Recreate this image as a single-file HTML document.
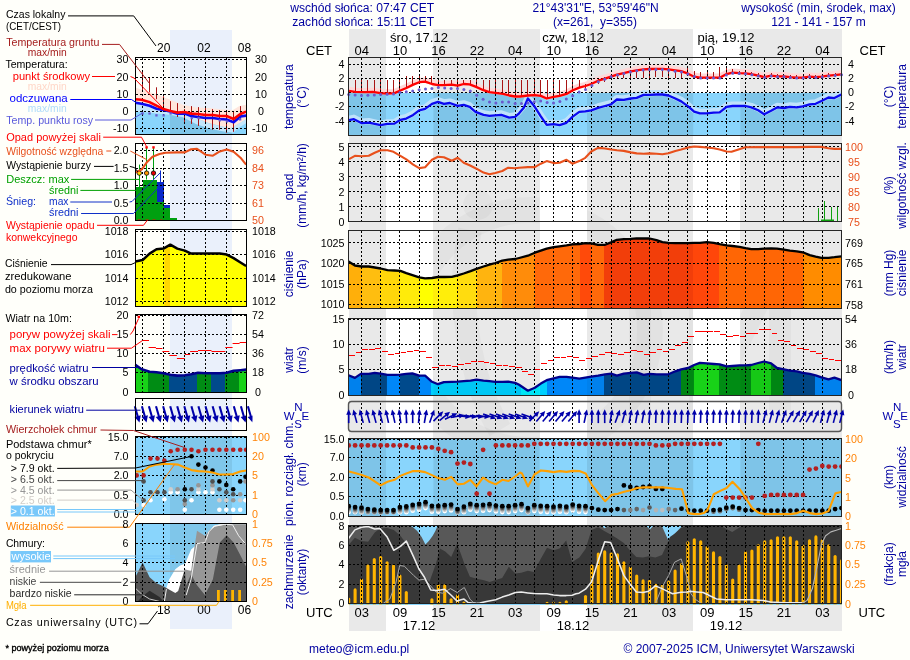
<!DOCTYPE html>
<html lang="pl"><head><meta charset="utf-8"><title>Meteogram ICM</title>
<style>
html,body{margin:0;padding:0;background:#fffffa;}
body{width:910px;height:660px;overflow:hidden;}
svg{display:block;font-family:"Liberation Sans",sans-serif;will-change:transform;}
</style></head><body>
<svg width="910" height="660" viewBox="0 0 910 660">
<rect x="0" y="0" width="910" height="660" fill="#fffffa"/>
<rect x="349" y="29" width="493" height="602" fill="#ffffff" shape-rendering="crispEdges"/>
<rect x="349.0" y="29" width="37.0" height="602" fill="#e9e9e9" shape-rendering="crispEdges"/>
<rect x="433.4" y="29" width="106.2" height="602" fill="#e9e9e9" shape-rendering="crispEdges"/>
<rect x="587.0" y="29" width="106.2" height="602" fill="#e9e9e9" shape-rendering="crispEdges"/>
<rect x="740.4" y="29" width="101.6" height="602" fill="#e9e9e9" shape-rendering="crispEdges"/>
<defs><clipPath id="nb"><rect x="349.0" y="29" width="37.0" height="602"/><rect x="433.4" y="29" width="106.2" height="602"/><rect x="587.0" y="29" width="106.2" height="602"/><rect x="740.4" y="29" width="101.6" height="602"/></clipPath></defs>
<g fill="none" stroke="#000" stroke-opacity="0.028" clip-path="url(#nb)"><circle cx="530" cy="330" r="120" stroke-width="26"/><path d="M470,230 C455,300 470,380 500,430" stroke-width="24"/><circle cx="478" cy="205" r="8" stroke-width="14"/><path d="M640,250 v160 M700,410 v-150 l40,80 l40,-80 v150" stroke-width="22"/></g>
<text x="290.3" y="12.0" font-size="12" fill="#0000a0" text-anchor="start" textLength="143.8" lengthAdjust="spacingAndGlyphs">wschód słońca: 07:47 CET</text>
<text x="292.2" y="26.0" font-size="12" fill="#0000a0" text-anchor="start" textLength="141.9" lengthAdjust="spacingAndGlyphs">zachód słońca: 15:11 CET</text>
<text x="595.5" y="12.0" font-size="12" fill="#0000a0" text-anchor="middle" >21°43'31"E, 53°59'46"N</text>
<text x="595.0" y="26.0" font-size="12" fill="#0000a0" text-anchor="middle" xml:space="preserve">(x=261,  y=355)</text>
<text x="818.5" y="12.0" font-size="12" fill="#0000a0" text-anchor="middle" >wysokość (min, środek, max)</text>
<text x="818.5" y="26.0" font-size="12" fill="#0000a0" text-anchor="middle" >121 - 141 - 157 m</text>
<text x="419.0" y="42.0" font-size="13" fill="#000" text-anchor="middle" >śro, 17.12</text>
<text x="573.0" y="42.0" font-size="13" fill="#000" text-anchor="middle" >czw, 18.12</text>
<text x="726.0" y="42.0" font-size="13" fill="#000" text-anchor="middle" >pią, 19.12</text>
<text x="419.0" y="630.0" font-size="13" fill="#000" text-anchor="middle" >17.12</text>
<text x="573.0" y="630.0" font-size="13" fill="#000" text-anchor="middle" >18.12</text>
<text x="726.0" y="630.0" font-size="13" fill="#000" text-anchor="middle" >19.12</text>
<text x="361.7" y="55.0" font-size="13" fill="#000" text-anchor="middle" >04</text>
<text x="361.7" y="617.0" font-size="13" fill="#000" text-anchor="middle" >03</text>
<text x="400.1" y="55.0" font-size="13" fill="#000" text-anchor="middle" >10</text>
<text x="400.1" y="617.0" font-size="13" fill="#000" text-anchor="middle" >09</text>
<text x="438.5" y="55.0" font-size="13" fill="#000" text-anchor="middle" >16</text>
<text x="438.5" y="617.0" font-size="13" fill="#000" text-anchor="middle" >15</text>
<text x="476.9" y="55.0" font-size="13" fill="#000" text-anchor="middle" >22</text>
<text x="476.9" y="617.0" font-size="13" fill="#000" text-anchor="middle" >21</text>
<text x="515.3" y="55.0" font-size="13" fill="#000" text-anchor="middle" >04</text>
<text x="515.3" y="617.0" font-size="13" fill="#000" text-anchor="middle" >03</text>
<text x="553.7" y="55.0" font-size="13" fill="#000" text-anchor="middle" >10</text>
<text x="553.7" y="617.0" font-size="13" fill="#000" text-anchor="middle" >09</text>
<text x="592.1" y="55.0" font-size="13" fill="#000" text-anchor="middle" >16</text>
<text x="592.1" y="617.0" font-size="13" fill="#000" text-anchor="middle" >15</text>
<text x="630.5" y="55.0" font-size="13" fill="#000" text-anchor="middle" >22</text>
<text x="630.5" y="617.0" font-size="13" fill="#000" text-anchor="middle" >21</text>
<text x="668.9" y="55.0" font-size="13" fill="#000" text-anchor="middle" >04</text>
<text x="668.9" y="617.0" font-size="13" fill="#000" text-anchor="middle" >03</text>
<text x="707.3" y="55.0" font-size="13" fill="#000" text-anchor="middle" >10</text>
<text x="707.3" y="617.0" font-size="13" fill="#000" text-anchor="middle" >09</text>
<text x="745.7" y="55.0" font-size="13" fill="#000" text-anchor="middle" >16</text>
<text x="745.7" y="617.0" font-size="13" fill="#000" text-anchor="middle" >15</text>
<text x="784.1" y="55.0" font-size="13" fill="#000" text-anchor="middle" >22</text>
<text x="784.1" y="617.0" font-size="13" fill="#000" text-anchor="middle" >21</text>
<text x="822.5" y="55.0" font-size="13" fill="#000" text-anchor="middle" >04</text>
<text x="822.5" y="617.0" font-size="13" fill="#000" text-anchor="middle" >03</text>
<text x="306.0" y="55.0" font-size="13" fill="#000" text-anchor="start" >CET</text>
<text x="859.5" y="55.0" font-size="13" fill="#000" text-anchor="start" >CET</text>
<text x="306.0" y="617.0" font-size="13" fill="#000" text-anchor="start" >UTC</text>
<text x="858.5" y="617.0" font-size="13" fill="#000" text-anchor="start" >UTC</text>
<defs><clipPath id="c1"><rect x="348.5" y="92.5" width="493.0" height="43.0"/></clipPath></defs>
<rect x="348.5" y="92.5" width="493.0" height="43.0" fill="#89d5fc" shape-rendering="crispEdges"/>
<rect x="349.0" y="57.5" width="37.0" height="78.0" fill="#000" fill-opacity="0.08" clip-path="url(#c1)"/>
<rect x="433.4" y="57.5" width="106.2" height="78.0" fill="#000" fill-opacity="0.08" clip-path="url(#c1)"/>
<rect x="587.0" y="57.5" width="106.2" height="78.0" fill="#000" fill-opacity="0.08" clip-path="url(#c1)"/>
<rect x="740.4" y="57.5" width="101.6" height="78.0" fill="#000" fill-opacity="0.08" clip-path="url(#c1)"/>
<polyline points="349.0,89.4 354.9,90.4 364.8,90.6 372.7,90.4 380.6,91.6 387.5,92.0 394.5,91.6 400.4,89.0 406.3,86.5 413.2,83.1 419.2,80.7 425.1,80.1 432.0,82.5 438.0,83.7 443.9,83.7 451.8,83.1 457.7,84.1 463.7,82.5 469.6,82.9 475.5,85.1 483.5,88.7 489.4,90.6 495.3,91.4 503.2,92.4 509.2,94.0 515.1,95.0 520.1,95.0 527.9,94.0 534.8,93.6 540.8,94.4 546.7,97.0 553.6,95.4 559.6,94.4 566.5,92.4 572.4,89.0 579.3,86.1 585.3,84.5 591.2,82.5 598.1,79.2 605.1,77.2 611.0,75.2 616.9,73.2 623.8,71.6 630.8,69.9 636.7,68.9 643.6,67.9 649.6,67.5 656.5,67.3 662.4,67.3 668.4,67.9 675.3,68.9 681.2,69.7 688.1,72.2 694.1,75.2 699.9,76.2 706.8,76.2 713.7,76.2 719.7,76.2 726.6,72.6 732.5,71.2 739.5,71.6 745.4,71.8 751.3,72.6 758.2,74.2 764.2,75.6 771.1,74.2 777.0,74.8 784.0,74.8 789.9,75.6 796.8,76.2 802.7,76.2 809.7,75.2 815.6,75.6 821.5,75.2 828.5,74.2 834.4,73.6 841.3,72.8" fill="none" stroke="#ffd8d8" stroke-width="5.4" stroke-linejoin="round"/>
<polyline points="349.0,118.6 353.9,117.6 361.8,121.6 368.7,121.0 380.6,123.6 387.5,122.2 394.5,122.0 400.4,118.2 406.3,117.0 413.2,113.3 419.2,108.7 425.1,107.3 432.0,102.2 438.0,100.2 443.9,102.2 449.8,101.4 457.7,104.2 463.7,103.2 469.6,105.2 475.5,110.3 483.5,113.3 489.4,114.3 495.3,113.7 501.3,113.3 509.2,116.0 515.1,115.3 519.1,111.7 524.0,105.8 527.9,96.9 533.8,103.8 540.8,114.7 546.7,123.2 553.6,122.6 559.6,123.6 566.5,121.2 572.4,115.3 579.3,110.3 585.3,109.7 591.2,108.7 598.1,106.2 605.1,104.4 611.0,102.8 616.9,97.9 623.8,98.2 630.8,96.9 636.7,96.3 643.6,93.3 649.6,93.3 656.5,92.9 662.4,92.9 668.4,93.9 675.3,96.9 681.2,99.8 688.1,104.8 694.1,110.1 699.9,111.7 706.8,111.7 713.7,111.1 719.7,110.7 726.6,105.2 732.5,104.4 739.5,104.4 745.4,104.4 751.3,105.8 758.2,108.7 764.2,112.7 771.1,109.1 777.0,105.8 784.0,106.4 789.9,105.2 796.8,105.8 802.7,104.8 809.7,102.8 815.6,102.2 821.5,99.4 828.5,95.9 834.4,96.5 841.3,92.9" fill="none" stroke="#bfe2fb" stroke-width="6" stroke-linejoin="round"/>
<path d="M355.5,79.5 V91.9 M361.5,79.5 V92.1 M367.5,79.5 V92.1 M374.5,79.5 V92.2 M380.5,79.5 V93.1 M387.5,79.5 V93.5 M393.5,79.5 V93.2 M399.5,79.5 V90.9 M406.5,76.3 V87.9 M412.5,76.3 V85.0 M419.5,76.3 V82.2 M425.5,76.3 V81.8 M431.5,76.3 V83.8 M438.5,79.5 V85.2 M444.5,79.5 V85.2 M451.5,79.5 V84.6 M457.5,79.5 V85.6 M463.5,79.5 V84.1 M470.5,79.5 V84.7 M476.5,79.5 V87.0 M483.5,79.5 V90.2 M489.5,79.5 V92.1 M495.5,79.5 V92.9 M502.5,80.3 V93.8 M508.5,80.3 V95.3 M515.5,80.3 V96.5 M521.5,80.3 V96.3 M527.5,80.3 V95.5 M534.5,80.3 V95.1 M540.5,80.3 V95.9 M547.5,80.3 V98.3 M553.5,80.3 V96.9 M559.5,80.3 V95.9 M566.5,80.3 V93.9 M572.5,80.3 V90.5 M579.5,80.3 V87.5 M585.5,83.9 V88.9 M591.5,81.9 V86.9 M598.5,78.6 V83.6 M604.5,76.8 V81.8 M611.5,76.0 V78.3 M617.5,74.1 V78.3 M623.5,72.7 V78.3 M630.5,70.9 V78.3 M636.5,69.9 V78.3 M643.5,68.9 V77.9 M649.5,68.5 V77.5 M655.5,68.3 V77.3 M662.5,68.3 V77.3 M668.5,68.9 V77.9 M675.5,69.9 V78.3 M681.5,70.8 V78.3 M687.5,68.0 V73.5 M694.5,71.3 V76.8 M700.5,72.2 V77.7 M707.5,72.2 V77.7 M713.5,72.2 V77.7 M719.5,67.4 V78.7 M726.5,67.9 V75.2 M732.5,68.8 V73.8 M739.5,70.6 V74.6 M745.5,70.9 V74.9 M751.5,71.7 V75.7 M758.5,73.3 V77.3 M764.5,74.5 V78.5 M771.5,73.3 V77.3 M777.5,73.8 V77.8 M783.5,73.8 V77.8 M790.5,74.7 V78.7 M796.5,75.2 V79.2 M803.5,75.1 V79.1 M809.5,74.2 V78.2 M815.5,74.6 V78.6 M822.5,74.1 V78.1 M828.5,73.2 V77.2 M835.5,72.5 V76.5 M841.5,71.8 V75.8" stroke="#a81414" stroke-width="1" fill="none" shape-rendering="crispEdges"/>
<path d="M361.5,57.5 V135.5 M380.5,57.5 V135.5 M399.5,57.5 V135.5 M419.5,57.5 V135.5 M438.5,57.5 V135.5 M457.5,57.5 V135.5 M476.5,57.5 V135.5 M495.5,57.5 V135.5 M515.5,57.5 V135.5 M534.5,57.5 V135.5 M553.5,57.5 V135.5 M572.5,57.5 V135.5 M591.5,57.5 V135.5 M611.5,57.5 V135.5 M630.5,57.5 V135.5 M649.5,57.5 V135.5 M668.5,57.5 V135.5 M687.5,57.5 V135.5 M707.5,57.5 V135.5 M726.5,57.5 V135.5 M745.5,57.5 V135.5 M764.5,57.5 V135.5 M783.5,57.5 V135.5 M803.5,57.5 V135.5 M822.5,57.5 V135.5 M348.5,64.5 H841.5 M348.5,78.5 H841.5 M348.5,92.5 H841.5 M348.5,106.5 H841.5 M348.5,121.5 H841.5" stroke="#000" stroke-width="1" stroke-dasharray="2,2" fill="none" shape-rendering="crispEdges"/>
<polyline points="349.0,90.9 354.9,91.9 364.8,92.1 372.7,91.9 380.6,93.1 387.5,93.5 394.5,93.1 400.4,90.5 406.3,88.0 413.2,84.6 419.2,82.2 425.1,81.6 432.0,84.0 438.0,85.2 443.9,85.2 451.8,84.6 457.7,85.6 463.7,84.0 469.6,84.4 475.5,86.6 483.5,90.2 489.4,92.1 495.3,92.9 503.2,93.9 509.2,95.5 515.1,96.5 520.1,96.5 527.9,95.5 534.8,95.1 540.8,95.9 546.7,98.5 553.6,96.9 559.6,95.9 566.5,93.9 572.4,90.5 579.3,87.6 585.3,86.0 591.2,84.0 598.1,80.7 605.1,78.7 611.0,76.7 616.9,74.7 623.8,73.1 630.8,71.4 636.7,70.4 643.6,69.4 649.6,69.0 656.5,68.8 662.4,68.8 668.4,69.4 675.3,70.4 681.2,71.2 688.1,73.7 694.1,76.7 699.9,77.7 706.8,77.7 713.7,77.7 719.7,77.7 726.6,74.1 732.5,72.7 739.5,73.1 745.4,73.3 751.3,74.1 758.2,75.7 764.2,77.1 771.1,75.7 777.0,76.3 784.0,76.3 789.9,77.1 796.8,77.7 802.7,77.7 809.7,76.7 815.6,77.1 821.5,76.7 828.5,75.7 834.4,75.1 841.3,74.3" fill="none" stroke="#ff0000" stroke-width="2.3" stroke-linejoin="round"/>
<polyline points="349.0,120.2 353.9,119.2 361.8,123.2 368.7,122.6 380.6,125.2 387.5,123.8 394.5,123.6 400.4,119.8 406.3,118.6 413.2,114.9 419.2,110.3 425.1,108.9 432.0,103.8 438.0,101.8 443.9,103.8 449.8,103.0 457.7,105.8 463.7,104.8 469.6,106.8 475.5,111.9 483.5,114.9 489.4,115.9 495.3,115.3 501.3,114.9 509.2,117.6 515.1,116.9 519.1,113.3 524.0,107.4 527.9,98.5 533.8,105.4 540.8,116.3 546.7,124.8 553.6,124.2 559.6,125.2 566.5,122.8 572.4,116.9 579.3,111.9 585.3,111.3 591.2,110.3 598.1,107.8 605.1,106.0 611.0,104.4 616.9,99.5 623.8,99.8 630.8,98.5 636.7,97.9 643.6,94.9 649.6,94.9 656.5,94.5 662.4,94.5 668.4,95.5 675.3,98.5 681.2,101.4 688.1,106.4 694.1,111.7 699.9,113.3 706.8,113.3 713.7,112.7 719.7,112.3 726.6,106.8 732.5,106.0 739.5,106.0 745.4,106.0 751.3,107.4 758.2,110.3 764.2,114.3 771.1,110.7 777.0,107.4 784.0,108.0 789.9,106.8 796.8,107.4 802.7,106.4 809.7,104.4 815.6,103.8 821.5,101.0 828.5,97.5 834.4,98.1 841.3,94.5" fill="none" stroke="#0a0af0" stroke-width="2.3" stroke-linejoin="round"/>
<g fill="#6a5acd"><circle cx="348.7" cy="94.5" r="1.5"/><circle cx="355.1" cy="95.1" r="1.5"/><circle cx="361.5" cy="95.5" r="1.5"/><circle cx="367.9" cy="95.3" r="1.5"/><circle cx="374.3" cy="94.9" r="1.5"/><circle cx="380.7" cy="94.5" r="1.5"/><circle cx="387.1" cy="94.3" r="1.5"/><circle cx="393.5" cy="93.9" r="1.5"/><circle cx="399.9" cy="92.6" r="1.5"/><circle cx="406.3" cy="91.8" r="1.5"/><circle cx="412.7" cy="91.0" r="1.5"/><circle cx="419.1" cy="89.7" r="1.5"/><circle cx="425.5" cy="89.0" r="1.5"/><circle cx="431.9" cy="88.6" r="1.5"/><circle cx="438.3" cy="87.6" r="1.5"/><circle cx="444.7" cy="88.0" r="1.5"/><circle cx="451.1" cy="88.6" r="1.5"/><circle cx="457.5" cy="88.6" r="1.5"/><circle cx="463.9" cy="89.5" r="1.5"/><circle cx="470.3" cy="90.9" r="1.5"/><circle cx="476.7" cy="95.3" r="1.5"/><circle cx="483.1" cy="99.2" r="1.5"/><circle cx="489.5" cy="102.0" r="1.5"/><circle cx="495.9" cy="103.0" r="1.5"/><circle cx="502.3" cy="102.0" r="1.5"/><circle cx="508.7" cy="102.0" r="1.5"/><circle cx="515.1" cy="103.4" r="1.5"/><circle cx="521.5" cy="103.4" r="1.5"/><circle cx="527.9" cy="103.0" r="1.5"/><circle cx="534.3" cy="101.8" r="1.5"/><circle cx="540.7" cy="101.0" r="1.5"/><circle cx="547.1" cy="102.4" r="1.5"/><circle cx="553.5" cy="103.0" r="1.5"/><circle cx="559.9" cy="101.4" r="1.5"/><circle cx="566.3" cy="98.9" r="1.5"/><circle cx="572.7" cy="95.7" r="1.5"/><circle cx="579.1" cy="92.1" r="1.5"/><circle cx="585.5" cy="89.6" r="1.5"/><circle cx="591.9" cy="85.4" r="1.5"/><circle cx="598.3" cy="81.8" r="1.5"/><circle cx="604.7" cy="79.2" r="1.5"/><circle cx="611.1" cy="76.7" r="1.5"/><circle cx="617.5" cy="75.0" r="1.5"/><circle cx="623.9" cy="73.4" r="1.5"/><circle cx="630.3" cy="72.1" r="1.5"/><circle cx="636.7" cy="70.8" r="1.5"/><circle cx="643.1" cy="70.0" r="1.5"/><circle cx="649.5" cy="69.6" r="1.5"/><circle cx="655.9" cy="69.4" r="1.5"/><circle cx="662.3" cy="69.4" r="1.5"/><circle cx="668.7" cy="70.2" r="1.5"/><circle cx="675.1" cy="71.3" r="1.5"/><circle cx="681.5" cy="72.1" r="1.5"/><circle cx="687.9" cy="74.1" r="1.5"/><circle cx="694.3" cy="76.6" r="1.5"/><circle cx="700.7" cy="78.1" r="1.5"/><circle cx="707.1" cy="78.1" r="1.5"/><circle cx="713.5" cy="78.1" r="1.5"/><circle cx="719.9" cy="78.0" r="1.5"/><circle cx="726.3" cy="74.9" r="1.5"/><circle cx="732.7" cy="73.3" r="1.5"/><circle cx="739.1" cy="73.5" r="1.5"/><circle cx="745.5" cy="73.8" r="1.5"/><circle cx="751.9" cy="74.7" r="1.5"/><circle cx="758.3" cy="76.1" r="1.5"/><circle cx="764.7" cy="77.4" r="1.5"/><circle cx="771.1" cy="76.1" r="1.5"/><circle cx="777.5" cy="76.7" r="1.5"/><circle cx="783.9" cy="76.7" r="1.5"/><circle cx="790.3" cy="77.5" r="1.5"/><circle cx="796.7" cy="78.1" r="1.5"/><circle cx="803.1" cy="78.0" r="1.5"/><circle cx="809.5" cy="77.1" r="1.5"/><circle cx="815.9" cy="77.5" r="1.5"/><circle cx="822.3" cy="77.0" r="1.5"/><circle cx="828.7" cy="76.1" r="1.5"/><circle cx="835.1" cy="75.4" r="1.5"/><circle cx="841.5" cy="74.7" r="1.5"/></g>
<rect x="348.5" y="57.5" width="493.0" height="78.0" fill="none" stroke="#262626" stroke-width="1" shape-rendering="crispEdges"/>
<text x="344.5" y="68.3" font-size="10.7" fill="#000" text-anchor="end" >4</text>
<text x="344.5" y="82.3" font-size="10.7" fill="#000" text-anchor="end" >2</text>
<text x="344.5" y="96.3" font-size="10.7" fill="#000" text-anchor="end" >0</text>
<text x="344.5" y="110.3" font-size="10.7" fill="#000" text-anchor="end" >-2</text>
<text x="344.5" y="125.3" font-size="10.7" fill="#000" text-anchor="end" >-4</text>
<text x="848.0" y="68.3" font-size="10.7" fill="#000" text-anchor="start" >4</text>
<text x="848.0" y="82.3" font-size="10.7" fill="#000" text-anchor="start" >2</text>
<text x="848.0" y="96.3" font-size="10.7" fill="#000" text-anchor="start" >0</text>
<text x="845.0" y="110.3" font-size="10.7" fill="#000" text-anchor="start" >-2</text>
<text x="845.0" y="125.3" font-size="10.7" fill="#000" text-anchor="start" >-4</text>
<text transform="translate(293.0,96.6) rotate(-90)" font-size="12" fill="#0000a0" text-anchor="middle">temperatura</text>
<text transform="translate(306.0,96.9) rotate(-90)" font-size="12" fill="#0000a0" text-anchor="middle">(°C)</text>
<text transform="translate(892.5,96.5) rotate(-90)" font-size="12" fill="#0000a0" text-anchor="middle">(°C)</text>
<text transform="translate(906.0,96.5) rotate(-90)" font-size="12" fill="#0000a0" text-anchor="middle">temperatura</text>
<path d="M361.5,143.5 V221.5 M380.5,143.5 V221.5 M399.5,143.5 V221.5 M419.5,143.5 V221.5 M438.5,143.5 V221.5 M457.5,143.5 V221.5 M476.5,143.5 V221.5 M495.5,143.5 V221.5 M515.5,143.5 V221.5 M534.5,143.5 V221.5 M553.5,143.5 V221.5 M572.5,143.5 V221.5 M591.5,143.5 V221.5 M611.5,143.5 V221.5 M630.5,143.5 V221.5 M649.5,143.5 V221.5 M668.5,143.5 V221.5 M687.5,143.5 V221.5 M707.5,143.5 V221.5 M726.5,143.5 V221.5 M745.5,143.5 V221.5 M764.5,143.5 V221.5 M783.5,143.5 V221.5 M803.5,143.5 V221.5 M822.5,143.5 V221.5 M348.5,146.5 H841.5 M348.5,161.5 H841.5 M348.5,176.5 H841.5 M348.5,191.5 H841.5 M348.5,206.5 H841.5" stroke="#000" stroke-width="1" stroke-dasharray="2,2" fill="none" shape-rendering="crispEdges"/>
<path d="M815.5,221 H841 M818.5,208 V221 M824.5,201 V221 M831.5,207 V221 M837.5,207 V221" stroke="#10a010" stroke-width="1" fill="none" shape-rendering="crispEdges"/>
<rect x="821" y="219.5" width="13" height="2" fill="#10a010"/>
<polyline points="349.0,159.2 354.9,155.8 361.8,156.2 368.7,155.8 374.7,152.8 380.6,150.3 387.5,150.3 393.5,151.8 400.4,155.8 406.3,159.4 413.2,164.7 419.2,168.1 425.1,167.3 432.0,159.8 438.0,156.8 443.9,157.2 451.8,160.7 457.7,157.8 463.7,162.7 469.6,165.3 476.5,168.7 483.5,172.6 489.4,174.2 495.3,173.0 502.3,171.0 508.2,167.7 515.1,168.3 519.1,167.7 527.9,167.1 534.8,167.1 540.8,163.7 546.7,161.1 553.6,163.1 559.6,162.7 566.5,159.8 572.4,163.7 579.3,161.1 585.3,157.8 591.2,151.5 598.1,147.9 605.1,148.5 611.0,149.5 616.9,150.3 623.8,150.9 630.8,152.4 636.7,153.4 643.6,153.8 649.6,153.4 656.5,153.8 662.4,154.2 668.4,153.2 675.3,150.9 681.2,149.5 688.1,147.5 694.1,146.5 699.9,146.9 706.8,147.5 713.7,148.3 719.7,149.5 726.6,151.5 731.5,151.8 738.5,149.5 745.4,147.3 758.2,147.1 771.1,147.1 784.0,147.1 796.8,147.1 809.7,146.9 821.5,146.9 828.5,148.3 834.4,148.9 841.3,148.9" fill="none" stroke="#e8501c" stroke-width="2.1" stroke-linejoin="round"/>
<rect x="348.5" y="143.5" width="493.0" height="78.0" fill="none" stroke="#262626" stroke-width="1" shape-rendering="crispEdges"/>
<text x="344.5" y="151.3" font-size="10.7" fill="#000" text-anchor="end" >5</text>
<text x="344.5" y="166.3" font-size="10.7" fill="#000" text-anchor="end" >4</text>
<text x="344.5" y="181.3" font-size="10.7" fill="#000" text-anchor="end" >3</text>
<text x="344.5" y="196.3" font-size="10.7" fill="#000" text-anchor="end" >2</text>
<text x="344.5" y="211.3" font-size="10.7" fill="#000" text-anchor="end" >1</text>
<text x="344.5" y="225.6" font-size="10.7" fill="#000" text-anchor="end" >0</text>
<text x="845.0" y="151.3" font-size="10.7" fill="#e8501c" text-anchor="start" >100</text>
<text x="848.0" y="166.3" font-size="10.7" fill="#e8501c" text-anchor="start" >95</text>
<text x="848.0" y="181.3" font-size="10.7" fill="#e8501c" text-anchor="start" >90</text>
<text x="848.0" y="196.3" font-size="10.7" fill="#e8501c" text-anchor="start" >85</text>
<text x="848.0" y="211.3" font-size="10.7" fill="#e8501c" text-anchor="start" >80</text>
<text x="848.0" y="225.8" font-size="10.7" fill="#e8501c" text-anchor="start" >75</text>
<text transform="translate(293.0,187.0) rotate(-90)" font-size="12" fill="#0000a0" text-anchor="middle">opad</text>
<text transform="translate(306.0,185.5) rotate(-90)" font-size="12" fill="#0000a0" text-anchor="middle">(mm/h, kg/m²/h)</text>
<text transform="translate(892.5,185.5) rotate(-90)" font-size="12" fill="#0000a0" text-anchor="middle">(%)</text>
<text transform="translate(906.0,185.5) rotate(-90)" font-size="12" fill="#0000a0" text-anchor="middle">wilgotność wzgl.</text>
<defs><clipPath id="c3"><polygon points="348.5,261.6 354.9,265.5 361.8,266.5 368.7,266.5 374.7,267.5 380.6,268.5 387.5,270.1 394.5,270.5 400.4,270.9 406.3,273.1 413.2,275.4 419.2,277.4 425.1,278.4 432.0,278.0 438.0,277.0 444.9,277.0 451.8,276.8 457.7,275.4 463.7,273.5 470.6,271.1 476.5,268.9 483.5,266.5 489.4,264.6 495.3,263.0 502.3,260.6 508.2,259.6 515.1,259.0 519.1,258.0 527.9,255.7 534.8,252.7 540.8,250.7 546.7,248.7 553.6,247.2 559.6,246.4 566.5,245.4 572.4,244.4 579.3,244.0 585.3,243.2 591.2,243.4 598.1,244.8 605.1,244.8 611.0,242.4 616.9,239.8 623.8,239.2 630.8,238.8 636.7,238.3 643.6,238.5 649.6,238.5 656.5,240.2 662.4,242.2 668.4,242.8 675.3,243.2 681.2,243.2 688.1,243.2 694.1,242.8 699.9,242.8 706.8,242.2 713.7,242.8 719.7,244.2 726.6,245.4 732.5,246.0 739.5,246.8 745.4,248.1 751.3,249.1 758.2,249.1 764.2,248.7 771.1,248.3 777.0,248.7 784.0,249.7 789.9,250.7 796.8,251.3 802.7,252.3 809.7,255.1 815.6,256.6 821.5,257.8 828.5,257.8 834.4,257.2 841.5,256.3 841.5,308.5 348.5,308.5"/></clipPath></defs>
<g clip-path="url(#c3)" shape-rendering="crispEdges"><rect x="348.0" y="230.5" width="14.3" height="78.0" fill="#ffaf0a"/><rect x="362.0" y="230.5" width="18.3" height="78.0" fill="#ffbe0f"/><rect x="380.0" y="230.5" width="20.3" height="78.0" fill="#ffd70a"/><rect x="400.0" y="230.5" width="20.3" height="78.0" fill="#ffeb0a"/><rect x="420.0" y="230.5" width="13.3" height="78.0" fill="#ffff00"/><rect x="433.0" y="230.5" width="24.3" height="78.0" fill="#ffee0a"/><rect x="457.0" y="230.5" width="20.3" height="78.0" fill="#ffdc0f"/><rect x="477.0" y="230.5" width="25.3" height="78.0" fill="#ffb40f"/><rect x="502.0" y="230.5" width="32.8" height="78.0" fill="#ff8c0a"/><rect x="534.5" y="230.5" width="45.3" height="78.0" fill="#ff690a"/><rect x="579.5" y="230.5" width="11.8" height="78.0" fill="#ff4a0a"/><rect x="591.0" y="230.5" width="13.3" height="78.0" fill="#ff690a"/><rect x="604.0" y="230.5" width="89.3" height="78.0" fill="#f23e0a"/><rect x="693.0" y="230.5" width="26.0" height="78.0" fill="#ff460a"/><rect x="718.7" y="230.5" width="84.3" height="78.0" fill="#ff6605"/><rect x="802.7" y="230.5" width="39.6" height="78.0" fill="#ff8c00"/></g>
<path d="M361.5,230.5 V308.5 M380.5,230.5 V308.5 M399.5,230.5 V308.5 M419.5,230.5 V308.5 M438.5,230.5 V308.5 M457.5,230.5 V308.5 M476.5,230.5 V308.5 M495.5,230.5 V308.5 M515.5,230.5 V308.5 M534.5,230.5 V308.5 M553.5,230.5 V308.5 M572.5,230.5 V308.5 M591.5,230.5 V308.5 M611.5,230.5 V308.5 M630.5,230.5 V308.5 M649.5,230.5 V308.5 M668.5,230.5 V308.5 M687.5,230.5 V308.5 M707.5,230.5 V308.5 M726.5,230.5 V308.5 M745.5,230.5 V308.5 M764.5,230.5 V308.5 M783.5,230.5 V308.5 M803.5,230.5 V308.5 M822.5,230.5 V308.5 M348.5,242.5 H841.5 M348.5,263.5 H841.5 M348.5,284.5 H841.5 M348.5,304.5 H841.5" stroke="#000" stroke-width="1" stroke-dasharray="2,2" fill="none" shape-rendering="crispEdges"/>
<polyline points="348.5,261.6 354.9,265.5 361.8,266.5 368.7,266.5 374.7,267.5 380.6,268.5 387.5,270.1 394.5,270.5 400.4,270.9 406.3,273.1 413.2,275.4 419.2,277.4 425.1,278.4 432.0,278.0 438.0,277.0 444.9,277.0 451.8,276.8 457.7,275.4 463.7,273.5 470.6,271.1 476.5,268.9 483.5,266.5 489.4,264.6 495.3,263.0 502.3,260.6 508.2,259.6 515.1,259.0 519.1,258.0 527.9,255.7 534.8,252.7 540.8,250.7 546.7,248.7 553.6,247.2 559.6,246.4 566.5,245.4 572.4,244.4 579.3,244.0 585.3,243.2 591.2,243.4 598.1,244.8 605.1,244.8 611.0,242.4 616.9,239.8 623.8,239.2 630.8,238.8 636.7,238.3 643.6,238.5 649.6,238.5 656.5,240.2 662.4,242.2 668.4,242.8 675.3,243.2 681.2,243.2 688.1,243.2 694.1,242.8 699.9,242.8 706.8,242.2 713.7,242.8 719.7,244.2 726.6,245.4 732.5,246.0 739.5,246.8 745.4,248.1 751.3,249.1 758.2,249.1 764.2,248.7 771.1,248.3 777.0,248.7 784.0,249.7 789.9,250.7 796.8,251.3 802.7,252.3 809.7,255.1 815.6,256.6 821.5,257.8 828.5,257.8 834.4,257.2 841.5,256.3" fill="none" stroke="#000" stroke-width="2.3" stroke-linejoin="round"/>
<rect x="348.5" y="230.5" width="493.0" height="78.0" fill="none" stroke="#262626" stroke-width="1" shape-rendering="crispEdges"/>
<text x="344.5" y="246.8" font-size="10.7" fill="#000" text-anchor="end" >1025</text>
<text x="344.5" y="267.3" font-size="10.7" fill="#000" text-anchor="end" >1020</text>
<text x="344.5" y="288.3" font-size="10.7" fill="#000" text-anchor="end" >1015</text>
<text x="344.5" y="308.3" font-size="10.7" fill="#000" text-anchor="end" >1010</text>
<text x="845.0" y="247.1" font-size="10.7" fill="#000" text-anchor="start" >769</text>
<text x="845.0" y="266.8" font-size="10.7" fill="#000" text-anchor="start" >765</text>
<text x="845.0" y="287.8" font-size="10.7" fill="#000" text-anchor="start" >761</text>
<text x="845.0" y="308.8" font-size="10.7" fill="#000" text-anchor="start" >758</text>
<text transform="translate(293.0,274.0) rotate(-90)" font-size="12" fill="#0000a0" text-anchor="middle">ciśnienie</text>
<text transform="translate(306.0,274.0) rotate(-90)" font-size="12" fill="#0000a0" text-anchor="middle">(hPa)</text>
<text transform="translate(892.5,273.0) rotate(-90)" font-size="12" fill="#0000a0" text-anchor="middle">(mm Hg)</text>
<text transform="translate(906.0,273.0) rotate(-90)" font-size="12" fill="#0000a0" text-anchor="middle">ciśnienie</text>
<defs><clipPath id="c4"><polygon points="348.5,375.3 354.9,377.9 360.8,373.9 368.7,373.9 374.7,372.9 380.6,373.7 387.5,374.9 394.5,374.9 400.4,374.7 406.3,373.9 412.3,373.3 419.2,375.7 425.1,375.7 432.0,381.8 438.0,384.2 443.9,382.2 451.8,381.8 457.7,381.6 463.7,381.2 470.6,380.6 476.5,379.6 483.5,380.6 489.4,381.2 495.3,381.8 502.3,381.8 508.2,381.6 515.1,382.8 519.1,384.8 527.9,390.7 534.8,387.8 540.8,383.6 546.7,380.2 553.6,378.3 559.6,376.9 566.5,376.9 572.4,377.7 579.3,378.7 585.3,377.7 591.2,376.7 598.1,375.7 605.1,374.3 611.0,373.7 616.9,375.7 623.8,373.7 630.8,372.9 636.7,372.3 643.6,374.9 649.6,373.9 656.5,374.3 662.4,374.3 668.4,374.3 675.3,371.3 681.2,369.4 688.1,368.0 694.1,365.0 699.9,362.8 706.8,363.4 713.7,364.0 719.7,364.4 726.6,366.4 732.5,366.0 739.5,365.4 745.4,365.4 751.3,365.0 758.2,363.0 764.2,361.5 771.1,363.4 777.0,368.0 784.0,369.4 789.9,370.7 796.8,371.3 802.7,372.9 809.7,373.9 815.6,375.3 821.5,377.3 828.5,379.3 834.4,377.7 841.5,380.2 841.5,395.5 348.5,395.5"/></clipPath></defs>
<g clip-path="url(#c4)" shape-rendering="crispEdges"><rect x="348.0" y="318.5" width="13.3" height="77.0" fill="#0087f8"/><rect x="361.0" y="318.5" width="25.8" height="77.0" fill="#004a8c"/><rect x="386.5" y="318.5" width="14.2" height="77.0" fill="#0087f8"/><rect x="400.4" y="318.5" width="18.9" height="77.0" fill="#004a8c"/><rect x="419.0" y="318.5" width="12.7" height="77.0" fill="#0087f8"/><rect x="431.4" y="318.5" width="89.9" height="77.0" fill="#00d0ff"/><rect x="521.0" y="318.5" width="19.3" height="77.0" fill="#00f0ff"/><rect x="540.0" y="318.5" width="7.0" height="77.0" fill="#00d0ff"/><rect x="546.7" y="318.5" width="57.6" height="77.0" fill="#0087f8"/><rect x="604.0" y="318.5" width="76.9" height="77.0" fill="#004a8c"/><rect x="680.6" y="318.5" width="13.7" height="77.0" fill="#008c14"/><rect x="694.0" y="318.5" width="25.6" height="77.0" fill="#18d218"/><rect x="719.3" y="318.5" width="31.7" height="77.0" fill="#008c14"/><rect x="750.7" y="318.5" width="20.1" height="77.0" fill="#18d218"/><rect x="770.5" y="318.5" width="12.8" height="77.0" fill="#008c14"/><rect x="783.0" y="318.5" width="32.3" height="77.0" fill="#004a8c"/><rect x="815.0" y="318.5" width="27.3" height="77.0" fill="#0087f8"/></g>
<rect x="349.0" y="318.5" width="37.0" height="77.0" fill="#000" fill-opacity="0.045" clip-path="url(#c4)"/>
<rect x="433.4" y="318.5" width="106.2" height="77.0" fill="#000" fill-opacity="0.045" clip-path="url(#c4)"/>
<rect x="587.0" y="318.5" width="106.2" height="77.0" fill="#000" fill-opacity="0.045" clip-path="url(#c4)"/>
<rect x="740.4" y="318.5" width="101.6" height="77.0" fill="#000" fill-opacity="0.045" clip-path="url(#c4)"/>
<path d="M361.5,318.5 V395.5 M380.5,318.5 V395.5 M399.5,318.5 V395.5 M419.5,318.5 V395.5 M438.5,318.5 V395.5 M457.5,318.5 V395.5 M476.5,318.5 V395.5 M495.5,318.5 V395.5 M515.5,318.5 V395.5 M534.5,318.5 V395.5 M553.5,318.5 V395.5 M572.5,318.5 V395.5 M591.5,318.5 V395.5 M611.5,318.5 V395.5 M630.5,318.5 V395.5 M649.5,318.5 V395.5 M668.5,318.5 V395.5 M687.5,318.5 V395.5 M707.5,318.5 V395.5 M726.5,318.5 V395.5 M745.5,318.5 V395.5 M764.5,318.5 V395.5 M783.5,318.5 V395.5 M803.5,318.5 V395.5 M822.5,318.5 V395.5 M348.5,319.5 H841.5 M348.5,344.5 H841.5 M348.5,369.5 H841.5" stroke="#000" stroke-width="1" stroke-dasharray="2,2" fill="none" shape-rendering="crispEdges"/>
<path d="M349.0,355.5 H354.9 M355.9,352.5 H361.2 M362.2,349.5 H367.7 M368.7,349.5 H374.7 M375.1,348.5 H380.6 M381.6,351.5 H387.5 M387.9,354.5 H393.9 M394.5,353.5 H400.4 M400.8,352.5 H406.3 M407.3,351.5 H413.2 M413.6,350.5 H419.2 M420.2,351.5 H425.5 M426.1,357.5 H432.0 M432.4,367.5 H438.0 M439.0,365.5 H444.9 M445.5,365.5 H451.2 M451.8,366.5 H457.7 M458.1,364.5 H463.7 M464.7,363.5 H470.6 M471.0,361.5 H476.5 M477.5,361.5 H483.5 M483.9,362.5 H489.4 M490.4,363.5 H495.3 M496.3,365.5 H502.3 M502.6,365.5 H508.2 M509.2,366.5 H515.1 M515.5,367.5 H520.1 M520.0,367.5 H522.0 M522.0,371.5 H527.9 M528.3,374.5 H534.2 M534.8,369.5 H540.2 M540.8,363.5 H547.1 M547.7,360.5 H553.0 M554.0,357.5 H559.6 M560.5,357.5 H565.9 M566.9,356.5 H572.4 M572.8,357.5 H578.7 M579.3,360.5 H585.3 M585.7,358.5 H591.6 M592.2,356.5 H598.1 M598.5,354.5 H604.5 M605.1,352.5 H611.0 M611.4,353.5 H617.3 M617.9,354.5 H623.8 M624.2,352.5 H630.2 M630.8,350.5 H636.7 M637.1,351.5 H643.0 M643.6,354.5 H649.6 M650.0,352.5 H655.9 M656.5,349.5 H662.4 M662.8,351.5 H668.4 M668.7,349.5 H674.7 M675.3,345.5 H681.2 M681.6,342.5 H687.5 M688.1,336.5 H694.1 M694.9,331.5 H700.9 M700.9,331.5 H706.8 M707.2,331.5 H713.1 M713.7,331.5 H719.7 M720.1,334.5 H726.0 M726.6,336.5 H732.5 M732.9,335.5 H738.9 M739.5,336.5 H745.4 M745.8,333.5 H751.7 M752.3,333.5 H758.2 M758.6,329.5 H764.6 M765.2,329.5 H771.1 M771.5,333.5 H777.4 M778.0,340.5 H784.0 M784.4,341.5 H789.9 M790.5,345.5 H796.2 M796.8,348.5 H802.7 M803.1,349.5 H809.1 M809.7,351.5 H815.6 M816.0,353.5 H821.5 M822.1,358.5 H828.1 M828.5,359.5 H834.4 M835.0,360.5 H841.3" stroke="#ff0000" stroke-width="1" fill="none" shape-rendering="crispEdges"/>
<polyline points="348.5,375.3 354.9,377.9 360.8,373.9 368.7,373.9 374.7,372.9 380.6,373.7 387.5,374.9 394.5,374.9 400.4,374.7 406.3,373.9 412.3,373.3 419.2,375.7 425.1,375.7 432.0,381.8 438.0,384.2 443.9,382.2 451.8,381.8 457.7,381.6 463.7,381.2 470.6,380.6 476.5,379.6 483.5,380.6 489.4,381.2 495.3,381.8 502.3,381.8 508.2,381.6 515.1,382.8 519.1,384.8 527.9,390.7 534.8,387.8 540.8,383.6 546.7,380.2 553.6,378.3 559.6,376.9 566.5,376.9 572.4,377.7 579.3,378.7 585.3,377.7 591.2,376.7 598.1,375.7 605.1,374.3 611.0,373.7 616.9,375.7 623.8,373.7 630.8,372.9 636.7,372.3 643.6,374.9 649.6,373.9 656.5,374.3 662.4,374.3 668.4,374.3 675.3,371.3 681.2,369.4 688.1,368.0 694.1,365.0 699.9,362.8 706.8,363.4 713.7,364.0 719.7,364.4 726.6,366.4 732.5,366.0 739.5,365.4 745.4,365.4 751.3,365.0 758.2,363.0 764.2,361.5 771.1,363.4 777.0,368.0 784.0,369.4 789.9,370.7 796.8,371.3 802.7,372.9 809.7,373.9 815.6,375.3 821.5,377.3 828.5,379.3 834.4,377.7 841.5,380.2" fill="none" stroke="#00008c" stroke-width="2.3" stroke-linejoin="round"/>
<rect x="348.5" y="318.5" width="493.0" height="77.0" fill="none" stroke="#262626" stroke-width="1" shape-rendering="crispEdges"/>
<text x="344.5" y="323.3" font-size="10.7" fill="#000" text-anchor="end" >15</text>
<text x="344.5" y="348.3" font-size="10.7" fill="#000" text-anchor="end" >10</text>
<text x="344.5" y="373.3" font-size="10.7" fill="#000" text-anchor="end" >5</text>
<text x="344.5" y="398.8" font-size="10.7" fill="#000" text-anchor="end" >0</text>
<text x="845.0" y="323.3" font-size="10.7" fill="#000" text-anchor="start" >54</text>
<text x="845.0" y="348.3" font-size="10.7" fill="#000" text-anchor="start" >36</text>
<text x="845.0" y="373.3" font-size="10.7" fill="#000" text-anchor="start" >18</text>
<text x="848.0" y="398.8" font-size="10.7" fill="#000" text-anchor="start" >0</text>
<text transform="translate(293.0,360.0) rotate(-90)" font-size="12" fill="#0000a0" text-anchor="middle">wiatr</text>
<text transform="translate(306.0,360.0) rotate(-90)" font-size="12" fill="#0000a0" text-anchor="middle">(m/s)</text>
<text transform="translate(892.5,357.0) rotate(-90)" font-size="12" fill="#0000a0" text-anchor="middle">(km/h)</text>
<text transform="translate(906.0,357.0) rotate(-90)" font-size="12" fill="#0000a0" text-anchor="middle">wiatr</text>
<path d="M361.5,402.5 V430.5 M380.5,402.5 V430.5 M399.5,402.5 V430.5 M419.5,402.5 V430.5 M438.5,402.5 V430.5 M457.5,402.5 V430.5 M476.5,402.5 V430.5 M495.5,402.5 V430.5 M515.5,402.5 V430.5 M534.5,402.5 V430.5 M553.5,402.5 V430.5 M572.5,402.5 V430.5 M591.5,402.5 V430.5 M611.5,402.5 V430.5 M630.5,402.5 V430.5 M649.5,402.5 V430.5 M668.5,402.5 V430.5 M687.5,402.5 V430.5 M707.5,402.5 V430.5 M726.5,402.5 V430.5 M745.5,402.5 V430.5 M764.5,402.5 V430.5 M783.5,402.5 V430.5 M803.5,402.5 V430.5 M822.5,402.5 V430.5" stroke="#000" stroke-width="1" stroke-dasharray="2,2" fill="none" shape-rendering="crispEdges"/>
<rect x="348.5" y="401.5" width="493.0" height="30.0" rx="3" ry="3" fill="none" stroke="#555" stroke-width="1.4"/>
<defs><g id="arw"><path d="M0,6.8 V-3" stroke="#0000aa" stroke-width="1.6" fill="none"/><path d="M0,-7 L2.5,-1.6 L-2.5,-1.6 Z" fill="#0000aa"/></g></defs>
<use href="#arw" transform="translate(348.7,416.3) rotate(0)"/><use href="#arw" transform="translate(355.1,416.3) rotate(-15)"/><use href="#arw" transform="translate(361.5,416.3) rotate(-15)"/><use href="#arw" transform="translate(367.9,416.3) rotate(-15)"/><use href="#arw" transform="translate(374.3,416.3) rotate(-15)"/><use href="#arw" transform="translate(380.7,416.3) rotate(-15)"/><use href="#arw" transform="translate(387.1,416.3) rotate(-12)"/><use href="#arw" transform="translate(393.5,416.3) rotate(-12)"/><use href="#arw" transform="translate(399.9,416.3) rotate(-8)"/><use href="#arw" transform="translate(406.3,416.3) rotate(-3)"/><use href="#arw" transform="translate(412.7,416.3) rotate(0)"/><use href="#arw" transform="translate(419.1,416.3) rotate(5)"/><use href="#arw" transform="translate(425.5,416.3) rotate(10)"/><use href="#arw" transform="translate(431.9,416.3) rotate(20)"/><use href="#arw" transform="translate(438.3,416.3) rotate(45)"/><use href="#arw" transform="translate(444.7,416.3) rotate(50)"/><use href="#arw" transform="translate(451.1,416.3) rotate(65)"/><use href="#arw" transform="translate(457.5,416.3) rotate(80)"/><use href="#arw" transform="translate(463.9,416.3) rotate(96)"/><use href="#arw" transform="translate(470.3,416.3) rotate(96)"/><use href="#arw" transform="translate(476.7,416.3) rotate(96)"/><use href="#arw" transform="translate(483.1,416.3) rotate(96)"/><use href="#arw" transform="translate(489.5,416.3) rotate(110)"/><use href="#arw" transform="translate(495.9,416.3) rotate(110)"/><use href="#arw" transform="translate(502.3,416.3) rotate(110)"/><use href="#arw" transform="translate(508.7,416.3) rotate(110)"/><use href="#arw" transform="translate(515.1,416.3) rotate(110)"/><use href="#arw" transform="translate(521.5,416.3) rotate(110)"/><use href="#arw" transform="translate(527.9,416.3) rotate(110)"/><use href="#arw" transform="translate(534.3,416.3) rotate(45)"/><use href="#arw" transform="translate(540.7,416.3) rotate(40)"/><use href="#arw" transform="translate(547.1,416.3) rotate(40)"/><use href="#arw" transform="translate(553.5,416.3) rotate(40)"/><use href="#arw" transform="translate(559.9,416.3) rotate(40)"/><use href="#arw" transform="translate(566.3,416.3) rotate(40)"/><use href="#arw" transform="translate(572.7,416.3) rotate(40)"/><use href="#arw" transform="translate(579.1,416.3) rotate(0)"/><use href="#arw" transform="translate(585.5,416.3) rotate(12)"/><use href="#arw" transform="translate(591.9,416.3) rotate(0)"/><use href="#arw" transform="translate(598.3,416.3) rotate(0)"/><use href="#arw" transform="translate(604.7,416.3) rotate(0)"/><use href="#arw" transform="translate(611.1,416.3) rotate(10)"/><use href="#arw" transform="translate(617.5,416.3) rotate(20)"/><use href="#arw" transform="translate(623.9,416.3) rotate(15)"/><use href="#arw" transform="translate(630.3,416.3) rotate(10)"/><use href="#arw" transform="translate(636.7,416.3) rotate(10)"/><use href="#arw" transform="translate(643.1,416.3) rotate(10)"/><use href="#arw" transform="translate(649.5,416.3) rotate(5)"/><use href="#arw" transform="translate(655.9,416.3) rotate(2)"/><use href="#arw" transform="translate(662.3,416.3) rotate(2)"/><use href="#arw" transform="translate(668.7,416.3) rotate(2)"/><use href="#arw" transform="translate(675.1,416.3) rotate(2)"/><use href="#arw" transform="translate(681.5,416.3) rotate(2)"/><use href="#arw" transform="translate(687.9,416.3) rotate(2)"/><use href="#arw" transform="translate(694.3,416.3) rotate(2)"/><use href="#arw" transform="translate(700.7,416.3) rotate(2)"/><use href="#arw" transform="translate(707.1,416.3) rotate(2)"/><use href="#arw" transform="translate(713.5,416.3) rotate(2)"/><use href="#arw" transform="translate(719.9,416.3) rotate(2)"/><use href="#arw" transform="translate(726.3,416.3) rotate(2)"/><use href="#arw" transform="translate(732.7,416.3) rotate(2)"/><use href="#arw" transform="translate(739.1,416.3) rotate(2)"/><use href="#arw" transform="translate(745.5,416.3) rotate(2)"/><use href="#arw" transform="translate(751.9,416.3) rotate(2)"/><use href="#arw" transform="translate(758.3,416.3) rotate(2)"/><use href="#arw" transform="translate(764.7,416.3) rotate(15)"/><use href="#arw" transform="translate(771.1,416.3) rotate(15)"/><use href="#arw" transform="translate(777.5,416.3) rotate(15)"/><use href="#arw" transform="translate(783.9,416.3) rotate(20)"/><use href="#arw" transform="translate(790.3,416.3) rotate(30)"/><use href="#arw" transform="translate(796.7,416.3) rotate(30)"/><use href="#arw" transform="translate(803.1,416.3) rotate(30)"/><use href="#arw" transform="translate(809.5,416.3) rotate(30)"/><use href="#arw" transform="translate(815.9,416.3) rotate(25)"/><use href="#arw" transform="translate(822.3,416.3) rotate(15)"/><use href="#arw" transform="translate(828.7,416.3) rotate(15)"/><use href="#arw" transform="translate(835.1,416.3) rotate(15)"/><use href="#arw" transform="translate(841.5,416.3) rotate(15)"/>
<text x="298.5" y="411.0" font-size="11.5" fill="#0000aa" text-anchor="middle" >N</text>
<text x="289.2" y="419.5" font-size="11.5" fill="#0000aa" text-anchor="middle" >W</text>
<text x="305.3" y="419.5" font-size="11.5" fill="#0000aa" text-anchor="middle" >E</text>
<text x="298.2" y="427.8" font-size="11.5" fill="#0000aa" text-anchor="middle" >S</text>
<text x="897.2" y="411.0" font-size="11.5" fill="#0000aa" text-anchor="middle" >N</text>
<text x="887.9" y="419.5" font-size="11.5" fill="#0000aa" text-anchor="middle" >W</text>
<text x="904.0" y="419.5" font-size="11.5" fill="#0000aa" text-anchor="middle" >E</text>
<text x="896.9" y="427.8" font-size="11.5" fill="#0000aa" text-anchor="middle" >S</text>
<defs><clipPath id="c6"><rect x="348.5" y="438.5" width="493.0" height="78.0"/></clipPath></defs>
<rect x="348.5" y="438.5" width="493.0" height="78.0" fill="#89d5fc" shape-rendering="crispEdges"/>
<rect x="349.0" y="438.5" width="37.0" height="78.0" fill="#000" fill-opacity="0.08" clip-path="url(#c6)"/>
<rect x="433.4" y="438.5" width="106.2" height="78.0" fill="#000" fill-opacity="0.08" clip-path="url(#c6)"/>
<rect x="587.0" y="438.5" width="106.2" height="78.0" fill="#000" fill-opacity="0.08" clip-path="url(#c6)"/>
<rect x="740.4" y="438.5" width="101.6" height="78.0" fill="#000" fill-opacity="0.08" clip-path="url(#c6)"/>
<path d="M361.5,438.5 V516.5 M380.5,438.5 V516.5 M399.5,438.5 V516.5 M419.5,438.5 V516.5 M438.5,438.5 V516.5 M457.5,438.5 V516.5 M476.5,438.5 V516.5 M495.5,438.5 V516.5 M515.5,438.5 V516.5 M534.5,438.5 V516.5 M553.5,438.5 V516.5 M572.5,438.5 V516.5 M591.5,438.5 V516.5 M611.5,438.5 V516.5 M630.5,438.5 V516.5 M649.5,438.5 V516.5 M668.5,438.5 V516.5 M687.5,438.5 V516.5 M707.5,438.5 V516.5 M726.5,438.5 V516.5 M745.5,438.5 V516.5 M764.5,438.5 V516.5 M783.5,438.5 V516.5 M803.5,438.5 V516.5 M822.5,438.5 V516.5 M348.5,439.5 H841.5 M348.5,457.5 H841.5 M348.5,477.5 H841.5 M348.5,496.5 H841.5" stroke="#000" stroke-width="1" stroke-dasharray="2,2" fill="none" shape-rendering="crispEdges"/>
<g fill="#b42020" clip-path="url(#c6)"><circle cx="348.7" cy="445.4" r="2.4"/><circle cx="355.1" cy="445.4" r="2.4"/><circle cx="361.5" cy="445.4" r="2.4"/><circle cx="367.9" cy="445.4" r="2.4"/><circle cx="374.3" cy="445.4" r="2.4"/><circle cx="380.7" cy="445.4" r="2.4"/><circle cx="387.1" cy="445.4" r="2.4"/><circle cx="393.5" cy="445.4" r="2.4"/><circle cx="399.9" cy="445.4" r="2.4"/><circle cx="406.3" cy="445.4" r="2.4"/><circle cx="412.7" cy="447.4" r="2.4"/><circle cx="419.1" cy="447.4" r="2.4"/><circle cx="425.5" cy="447.4" r="2.4"/><circle cx="431.9" cy="447.4" r="2.4"/><circle cx="438.3" cy="448.8" r="2.4"/><circle cx="444.7" cy="450.8" r="2.4"/><circle cx="451.1" cy="452.2" r="2.4"/><circle cx="457.5" cy="463.6" r="2.4"/><circle cx="463.9" cy="462.6" r="2.4"/><circle cx="470.3" cy="464.0" r="2.4"/><circle cx="476.7" cy="493.7" r="2.4"/><circle cx="483.1" cy="449.8" r="2.4"/><circle cx="489.5" cy="493.7" r="2.4"/><circle cx="495.9" cy="445.4" r="2.4"/><circle cx="502.3" cy="445.4" r="2.4"/><circle cx="508.7" cy="445.4" r="2.4"/><circle cx="515.1" cy="445.4" r="2.4"/><circle cx="521.5" cy="445.4" r="2.4"/><circle cx="527.9" cy="445.4" r="2.4"/><circle cx="534.3" cy="443.8" r="2.4"/><circle cx="540.7" cy="443.8" r="2.4"/><circle cx="547.1" cy="443.8" r="2.4"/><circle cx="553.5" cy="443.8" r="2.4"/><circle cx="559.9" cy="443.8" r="2.4"/><circle cx="566.3" cy="443.8" r="2.4"/><circle cx="572.7" cy="443.8" r="2.4"/><circle cx="579.1" cy="443.8" r="2.4"/><circle cx="585.5" cy="443.8" r="2.4"/><circle cx="591.9" cy="443.8" r="2.4"/><circle cx="598.3" cy="443.8" r="2.4"/><circle cx="604.7" cy="443.8" r="2.4"/><circle cx="611.1" cy="443.8" r="2.4"/><circle cx="617.5" cy="443.8" r="2.4"/><circle cx="623.9" cy="443.8" r="2.4"/><circle cx="630.3" cy="443.8" r="2.4"/><circle cx="636.7" cy="443.8" r="2.4"/><circle cx="643.1" cy="443.8" r="2.4"/><circle cx="649.5" cy="443.8" r="2.4"/><circle cx="655.9" cy="445.4" r="2.4"/><circle cx="662.3" cy="445.4" r="2.4"/><circle cx="668.7" cy="445.2" r="2.4"/><circle cx="675.1" cy="443.8" r="2.4"/><circle cx="681.5" cy="443.8" r="2.4"/><circle cx="687.9" cy="443.8" r="2.4"/><circle cx="694.3" cy="443.8" r="2.4"/><circle cx="700.7" cy="443.8" r="2.4"/><circle cx="707.1" cy="443.8" r="2.4"/><circle cx="713.5" cy="443.8" r="2.4"/><circle cx="719.9" cy="443.8" r="2.4"/><circle cx="726.3" cy="497.6" r="2.4"/><circle cx="732.7" cy="497.6" r="2.4"/><circle cx="739.1" cy="497.6" r="2.4"/><circle cx="745.5" cy="497.6" r="2.4"/><circle cx="751.9" cy="497.6" r="2.4"/><circle cx="758.3" cy="443.8" r="2.4"/><circle cx="764.7" cy="495.9" r="2.4"/><circle cx="771.1" cy="494.9" r="2.4"/><circle cx="777.5" cy="494.9" r="2.4"/><circle cx="783.9" cy="494.9" r="2.4"/><circle cx="790.3" cy="494.9" r="2.4"/><circle cx="796.7" cy="494.9" r="2.4"/><circle cx="803.1" cy="494.9" r="2.4"/><circle cx="809.5" cy="469.6" r="2.4"/><circle cx="815.9" cy="468.6" r="2.4"/><circle cx="822.3" cy="466.0" r="2.4"/><circle cx="828.7" cy="466.6" r="2.4"/><circle cx="835.1" cy="466.6" r="2.4"/><circle cx="841.5" cy="466.6" r="2.4"/></g>
<g clip-path="url(#c6)"><circle cx="348.7" cy="512.1" r="2.3" fill="#ffffff"/><circle cx="348.7" cy="510.6" r="2.3" fill="#c8c8c8"/><circle cx="348.7" cy="509.1" r="2.3" fill="#909090"/><circle cx="348.7" cy="507.6" r="2.3" fill="#505050"/><circle cx="348.7" cy="506.2" r="2.4" fill="#000"/><circle cx="355.1" cy="512.3" r="2.3" fill="#ffffff"/><circle cx="355.1" cy="511.6" r="2.3" fill="#c8c8c8"/><circle cx="355.1" cy="510.1" r="2.3" fill="#909090"/><circle cx="355.1" cy="508.6" r="2.3" fill="#505050"/><circle cx="355.1" cy="507.1" r="2.4" fill="#000"/><circle cx="361.5" cy="512.3" r="2.3" fill="#ffffff"/><circle cx="361.5" cy="512.2" r="2.3" fill="#c8c8c8"/><circle cx="361.5" cy="510.7" r="2.3" fill="#909090"/><circle cx="361.5" cy="509.2" r="2.3" fill="#505050"/><circle cx="361.5" cy="507.7" r="2.4" fill="#000"/><circle cx="367.9" cy="512.3" r="2.3" fill="#ffffff"/><circle cx="367.9" cy="512.3" r="2.3" fill="#c8c8c8"/><circle cx="367.9" cy="512.1" r="2.3" fill="#909090"/><circle cx="367.9" cy="510.6" r="2.3" fill="#505050"/><circle cx="367.9" cy="509.1" r="2.4" fill="#000"/><circle cx="374.3" cy="512.3" r="2.3" fill="#ffffff"/><circle cx="374.3" cy="512.3" r="2.3" fill="#c8c8c8"/><circle cx="374.3" cy="512.3" r="2.3" fill="#909090"/><circle cx="374.3" cy="511.2" r="2.3" fill="#505050"/><circle cx="374.3" cy="509.7" r="2.4" fill="#000"/><circle cx="380.7" cy="512.3" r="2.3" fill="#ffffff"/><circle cx="380.7" cy="512.3" r="2.3" fill="#c8c8c8"/><circle cx="380.7" cy="512.3" r="2.3" fill="#909090"/><circle cx="380.7" cy="511.6" r="2.3" fill="#505050"/><circle cx="380.7" cy="510.1" r="2.4" fill="#000"/><circle cx="387.1" cy="512.3" r="2.3" fill="#ffffff"/><circle cx="387.1" cy="512.3" r="2.3" fill="#c8c8c8"/><circle cx="387.1" cy="512.3" r="2.3" fill="#909090"/><circle cx="387.1" cy="511.6" r="2.3" fill="#505050"/><circle cx="387.1" cy="510.1" r="2.4" fill="#000"/><circle cx="393.5" cy="512.3" r="2.3" fill="#ffffff"/><circle cx="393.5" cy="512.3" r="2.3" fill="#c8c8c8"/><circle cx="393.5" cy="512.3" r="2.3" fill="#909090"/><circle cx="393.5" cy="511.6" r="2.3" fill="#505050"/><circle cx="393.5" cy="510.1" r="2.4" fill="#000"/><circle cx="399.9" cy="512.3" r="2.3" fill="#ffffff"/><circle cx="399.9" cy="511.6" r="2.3" fill="#c8c8c8"/><circle cx="399.9" cy="510.1" r="2.3" fill="#909090"/><circle cx="399.9" cy="508.6" r="2.3" fill="#505050"/><circle cx="399.9" cy="507.1" r="2.4" fill="#000"/><circle cx="406.3" cy="512.3" r="2.3" fill="#ffffff"/><circle cx="406.3" cy="511.0" r="2.3" fill="#c8c8c8"/><circle cx="406.3" cy="509.5" r="2.3" fill="#909090"/><circle cx="406.3" cy="508.0" r="2.3" fill="#505050"/><circle cx="406.3" cy="506.5" r="2.4" fill="#000"/><circle cx="412.7" cy="510.7" r="2.3" fill="#ffffff"/><circle cx="412.7" cy="509.2" r="2.3" fill="#c8c8c8"/><circle cx="412.7" cy="507.7" r="2.3" fill="#909090"/><circle cx="412.7" cy="506.3" r="2.3" fill="#505050"/><circle cx="412.7" cy="504.8" r="2.4" fill="#000"/><circle cx="419.1" cy="509.7" r="2.3" fill="#ffffff"/><circle cx="419.1" cy="508.2" r="2.3" fill="#c8c8c8"/><circle cx="419.1" cy="506.7" r="2.3" fill="#909090"/><circle cx="419.1" cy="505.3" r="2.3" fill="#505050"/><circle cx="419.1" cy="503.8" r="2.4" fill="#000"/><circle cx="425.5" cy="508.1" r="2.3" fill="#ffffff"/><circle cx="425.5" cy="506.6" r="2.3" fill="#c8c8c8"/><circle cx="425.5" cy="505.2" r="2.3" fill="#909090"/><circle cx="425.5" cy="503.7" r="2.3" fill="#505050"/><circle cx="425.5" cy="502.2" r="2.4" fill="#000"/><circle cx="431.9" cy="511.7" r="2.3" fill="#ffffff"/><circle cx="431.9" cy="510.2" r="2.3" fill="#c8c8c8"/><circle cx="431.9" cy="508.7" r="2.3" fill="#909090"/><circle cx="431.9" cy="507.2" r="2.3" fill="#505050"/><circle cx="431.9" cy="505.8" r="2.4" fill="#000"/><circle cx="438.3" cy="511.7" r="2.3" fill="#ffffff"/><circle cx="438.3" cy="510.2" r="2.3" fill="#c8c8c8"/><circle cx="438.3" cy="508.7" r="2.3" fill="#909090"/><circle cx="438.3" cy="507.2" r="2.3" fill="#505050"/><circle cx="438.3" cy="505.8" r="2.4" fill="#000"/><circle cx="444.7" cy="511.1" r="2.3" fill="#ffffff"/><circle cx="444.7" cy="509.6" r="2.3" fill="#c8c8c8"/><circle cx="444.7" cy="508.1" r="2.3" fill="#909090"/><circle cx="444.7" cy="506.6" r="2.3" fill="#505050"/><circle cx="444.7" cy="505.2" r="2.4" fill="#000"/><circle cx="451.1" cy="510.5" r="2.3" fill="#ffffff"/><circle cx="451.1" cy="509.0" r="2.3" fill="#c8c8c8"/><circle cx="451.1" cy="507.5" r="2.3" fill="#909090"/><circle cx="451.1" cy="506.1" r="2.3" fill="#505050"/><circle cx="451.1" cy="504.6" r="2.4" fill="#000"/><circle cx="457.5" cy="512.3" r="2.3" fill="#ffffff"/><circle cx="457.5" cy="512.3" r="2.3" fill="#c8c8c8"/><circle cx="457.5" cy="512.1" r="2.3" fill="#909090"/><circle cx="457.5" cy="510.6" r="2.3" fill="#505050"/><circle cx="457.5" cy="509.1" r="2.4" fill="#000"/><circle cx="463.9" cy="512.3" r="2.3" fill="#ffffff"/><circle cx="463.9" cy="511.2" r="2.3" fill="#c8c8c8"/><circle cx="463.9" cy="509.7" r="2.3" fill="#909090"/><circle cx="463.9" cy="508.2" r="2.3" fill="#505050"/><circle cx="463.9" cy="506.7" r="2.4" fill="#000"/><circle cx="470.3" cy="509.7" r="2.3" fill="#ffffff"/><circle cx="470.3" cy="508.2" r="2.3" fill="#c8c8c8"/><circle cx="470.3" cy="506.7" r="2.3" fill="#909090"/><circle cx="470.3" cy="505.3" r="2.3" fill="#505050"/><circle cx="470.3" cy="503.8" r="2.4" fill="#000"/><circle cx="476.7" cy="511.1" r="2.3" fill="#ffffff"/><circle cx="476.7" cy="509.6" r="2.3" fill="#c8c8c8"/><circle cx="476.7" cy="508.1" r="2.3" fill="#909090"/><circle cx="476.7" cy="506.6" r="2.3" fill="#505050"/><circle cx="476.7" cy="505.2" r="2.4" fill="#000"/><circle cx="483.1" cy="510.7" r="2.3" fill="#ffffff"/><circle cx="483.1" cy="509.2" r="2.3" fill="#c8c8c8"/><circle cx="483.1" cy="507.7" r="2.3" fill="#909090"/><circle cx="483.1" cy="506.3" r="2.3" fill="#505050"/><circle cx="483.1" cy="504.8" r="2.4" fill="#000"/><circle cx="489.5" cy="510.1" r="2.3" fill="#ffffff"/><circle cx="489.5" cy="508.6" r="2.3" fill="#c8c8c8"/><circle cx="489.5" cy="507.1" r="2.3" fill="#909090"/><circle cx="489.5" cy="505.7" r="2.3" fill="#505050"/><circle cx="489.5" cy="504.2" r="2.4" fill="#000"/><circle cx="495.9" cy="511.5" r="2.3" fill="#ffffff"/><circle cx="495.9" cy="510.0" r="2.3" fill="#c8c8c8"/><circle cx="495.9" cy="508.5" r="2.3" fill="#909090"/><circle cx="495.9" cy="507.0" r="2.3" fill="#505050"/><circle cx="495.9" cy="505.6" r="2.4" fill="#000"/><circle cx="502.3" cy="512.1" r="2.3" fill="#ffffff"/><circle cx="502.3" cy="510.6" r="2.3" fill="#c8c8c8"/><circle cx="502.3" cy="509.1" r="2.3" fill="#909090"/><circle cx="502.3" cy="507.6" r="2.3" fill="#505050"/><circle cx="502.3" cy="506.2" r="2.4" fill="#000"/><circle cx="508.7" cy="512.1" r="2.3" fill="#ffffff"/><circle cx="508.7" cy="510.6" r="2.3" fill="#c8c8c8"/><circle cx="508.7" cy="509.1" r="2.3" fill="#909090"/><circle cx="508.7" cy="507.6" r="2.3" fill="#505050"/><circle cx="508.7" cy="506.2" r="2.4" fill="#000"/><circle cx="515.1" cy="511.1" r="2.3" fill="#ffffff"/><circle cx="515.1" cy="509.6" r="2.3" fill="#c8c8c8"/><circle cx="515.1" cy="508.1" r="2.3" fill="#909090"/><circle cx="515.1" cy="506.6" r="2.3" fill="#505050"/><circle cx="515.1" cy="505.2" r="2.4" fill="#000"/><circle cx="521.5" cy="510.1" r="2.3" fill="#ffffff"/><circle cx="521.5" cy="508.6" r="2.3" fill="#c8c8c8"/><circle cx="521.5" cy="507.1" r="2.3" fill="#909090"/><circle cx="521.5" cy="505.7" r="2.3" fill="#505050"/><circle cx="521.5" cy="504.2" r="2.4" fill="#000"/><circle cx="527.9" cy="512.3" r="2.3" fill="#ffffff"/><circle cx="527.9" cy="512.3" r="2.3" fill="#c8c8c8"/><circle cx="527.9" cy="511.1" r="2.3" fill="#909090"/><circle cx="527.9" cy="509.6" r="2.3" fill="#505050"/><circle cx="527.9" cy="508.1" r="2.4" fill="#000"/><circle cx="534.3" cy="511.1" r="2.3" fill="#ffffff"/><circle cx="534.3" cy="509.6" r="2.3" fill="#c8c8c8"/><circle cx="534.3" cy="508.1" r="2.3" fill="#909090"/><circle cx="534.3" cy="506.6" r="2.3" fill="#505050"/><circle cx="534.3" cy="505.2" r="2.4" fill="#000"/><circle cx="540.7" cy="511.7" r="2.3" fill="#ffffff"/><circle cx="540.7" cy="510.2" r="2.3" fill="#c8c8c8"/><circle cx="540.7" cy="508.7" r="2.3" fill="#909090"/><circle cx="540.7" cy="507.2" r="2.3" fill="#505050"/><circle cx="540.7" cy="505.8" r="2.4" fill="#000"/><circle cx="547.1" cy="512.1" r="2.3" fill="#ffffff"/><circle cx="547.1" cy="510.6" r="2.3" fill="#c8c8c8"/><circle cx="547.1" cy="509.1" r="2.3" fill="#909090"/><circle cx="547.1" cy="507.6" r="2.3" fill="#505050"/><circle cx="547.1" cy="506.2" r="2.4" fill="#000"/><circle cx="553.5" cy="512.3" r="2.3" fill="#ffffff"/><circle cx="553.5" cy="511.2" r="2.3" fill="#c8c8c8"/><circle cx="553.5" cy="509.7" r="2.3" fill="#909090"/><circle cx="553.5" cy="508.2" r="2.3" fill="#505050"/><circle cx="553.5" cy="506.7" r="2.4" fill="#000"/><circle cx="559.9" cy="511.7" r="2.3" fill="#ffffff"/><circle cx="559.9" cy="510.2" r="2.3" fill="#c8c8c8"/><circle cx="559.9" cy="508.7" r="2.3" fill="#909090"/><circle cx="559.9" cy="507.2" r="2.3" fill="#505050"/><circle cx="559.9" cy="505.8" r="2.4" fill="#000"/><circle cx="566.3" cy="512.3" r="2.3" fill="#ffffff"/><circle cx="566.3" cy="511.2" r="2.3" fill="#c8c8c8"/><circle cx="566.3" cy="509.7" r="2.3" fill="#909090"/><circle cx="566.3" cy="508.2" r="2.3" fill="#505050"/><circle cx="566.3" cy="506.7" r="2.4" fill="#000"/><circle cx="572.7" cy="510.5" r="2.3" fill="#ffffff"/><circle cx="572.7" cy="509.0" r="2.3" fill="#c8c8c8"/><circle cx="572.7" cy="507.5" r="2.3" fill="#909090"/><circle cx="572.7" cy="506.1" r="2.3" fill="#505050"/><circle cx="572.7" cy="504.6" r="2.4" fill="#000"/><circle cx="579.1" cy="511.7" r="2.3" fill="#ffffff"/><circle cx="579.1" cy="510.2" r="2.3" fill="#c8c8c8"/><circle cx="579.1" cy="508.7" r="2.3" fill="#909090"/><circle cx="579.1" cy="507.2" r="2.3" fill="#505050"/><circle cx="579.1" cy="505.8" r="2.4" fill="#000"/><circle cx="585.5" cy="512.1" r="2.3" fill="#ffffff"/><circle cx="585.5" cy="510.6" r="2.3" fill="#c8c8c8"/><circle cx="585.5" cy="509.1" r="2.3" fill="#909090"/><circle cx="585.5" cy="507.6" r="2.3" fill="#505050"/><circle cx="585.5" cy="506.2" r="2.4" fill="#000"/><circle cx="591.9" cy="508.1" r="2.4" fill="#000"/><circle cx="598.3" cy="509.7" r="2.4" fill="#000"/><circle cx="604.7" cy="510.1" r="2.4" fill="#000"/><circle cx="611.1" cy="510.1" r="2.4" fill="#000"/><circle cx="617.5" cy="509.1" r="2.4" fill="#000"/><circle cx="623.9" cy="510.1" r="2.3" fill="#5a5a5a"/><circle cx="623.9" cy="485.4" r="2.4" fill="#000"/><circle cx="630.3" cy="510.1" r="2.3" fill="#828282"/><circle cx="630.3" cy="487.0" r="2.4" fill="#000"/><circle cx="636.7" cy="509.1" r="2.3" fill="#646464"/><circle cx="636.7" cy="488.0" r="2.4" fill="#000"/><circle cx="643.1" cy="510.1" r="2.3" fill="#a0a0a0"/><circle cx="643.1" cy="487.0" r="2.4" fill="#000"/><circle cx="649.5" cy="507.5" r="2.3" fill="#5a5a5a"/><circle cx="649.5" cy="486.4" r="2.4" fill="#000"/><circle cx="655.9" cy="510.1" r="2.3" fill="#b4b4b4"/><circle cx="655.9" cy="488.9" r="2.4" fill="#000"/><circle cx="662.3" cy="510.1" r="2.3" fill="#bebebe"/><circle cx="662.3" cy="488.9" r="2.4" fill="#000"/><circle cx="668.7" cy="509.1" r="2.3" fill="#828282"/><circle cx="675.1" cy="510.1" r="2.3" fill="#646464"/><circle cx="681.5" cy="508.7" r="2.4" fill="#000"/><circle cx="687.9" cy="510.1" r="2.4" fill="#000"/><circle cx="694.3" cy="510.7" r="2.4" fill="#000"/><circle cx="700.7" cy="510.7" r="2.4" fill="#000"/><circle cx="707.1" cy="510.7" r="2.4" fill="#000"/><circle cx="713.5" cy="511.7" r="2.3" fill="#707070"/><circle cx="713.5" cy="510.1" r="2.4" fill="#000"/><circle cx="719.9" cy="511.3" r="2.3" fill="#707070"/><circle cx="719.9" cy="509.7" r="2.4" fill="#000"/><circle cx="726.3" cy="509.3" r="2.3" fill="#707070"/><circle cx="726.3" cy="507.7" r="2.4" fill="#000"/><circle cx="732.7" cy="508.3" r="2.3" fill="#707070"/><circle cx="732.7" cy="506.7" r="2.4" fill="#000"/><circle cx="739.1" cy="509.7" r="2.3" fill="#707070"/><circle cx="739.1" cy="508.1" r="2.4" fill="#000"/><circle cx="745.5" cy="510.1" r="2.4" fill="#000"/><circle cx="751.9" cy="510.1" r="2.4" fill="#000"/><circle cx="758.3" cy="510.1" r="2.4" fill="#000"/><circle cx="835.1" cy="509.1" r="2.4" fill="#000"/><circle cx="841.5" cy="508.1" r="2.4" fill="#000"/><circle cx="764.7" cy="510.7" r="2.4" fill="#000"/><circle cx="771.1" cy="510.7" r="2.4" fill="#000"/><circle cx="777.5" cy="510.7" r="2.4" fill="#000"/><circle cx="783.9" cy="510.7" r="2.4" fill="#000"/><circle cx="790.3" cy="510.7" r="2.4" fill="#000"/><circle cx="796.7" cy="510.7" r="2.4" fill="#000"/><circle cx="803.1" cy="510.7" r="2.4" fill="#000"/><circle cx="809.5" cy="510.7" r="2.4" fill="#000"/><circle cx="815.9" cy="510.7" r="2.4" fill="#000"/><circle cx="822.3" cy="510.7" r="2.4" fill="#000"/><circle cx="828.7" cy="510.7" r="2.4" fill="#000"/></g>
<polyline points="349.0,471.5 354.9,473.1 361.8,475.1 368.7,477.5 374.7,481.4 380.6,485.4 387.5,481.8 394.5,479.8 400.4,475.9 406.3,473.5 413.2,471.1 419.2,471.1 425.1,472.1 432.0,475.1 438.0,478.1 444.9,479.8 451.2,476.9 457.7,484.4 463.7,483.8 470.2,479.8 476.5,486.4 483.1,477.5 489.4,481.8 495.7,484.4 502.3,479.8 508.6,481.0 515.1,476.5 520.1,472.5 522.0,473.5 527.9,486.4 534.4,474.5 540.8,470.5 547.3,471.1 553.6,472.1 560.0,471.1 566.5,471.9 572.8,470.9 579.3,471.1 585.7,473.5 592.2,485.4 598.5,493.3 605.1,501.2 611.4,494.9 617.9,493.7 624.2,491.7 630.8,490.3 637.1,488.0 643.6,487.4 650.0,487.4 656.5,487.4 662.8,487.4 669.1,488.0 675.7,488.9 682.0,489.3 685.2,501.2 688.1,513.1 694.1,514.1 699.9,514.1 703.8,513.1 707.4,510.1 713.7,494.3 720.3,490.9 726.6,488.0 732.5,481.8 739.5,488.9 745.8,498.2 752.1,508.1 758.6,512.7 765.0,514.1 777.8,514.1 790.7,514.1 797.0,513.1 803.3,510.7 809.9,513.1 816.2,514.1 822.5,513.5 828.5,511.1 835.4,493.3 841.3,491.9" fill="none" stroke="#ffa000" stroke-width="2.1" stroke-linejoin="round" clip-path="url(#c6)"/>
<rect x="348.5" y="438.5" width="493.0" height="78.0" fill="none" stroke="#262626" stroke-width="1" shape-rendering="crispEdges"/>
<text x="344.5" y="442.6" font-size="10.7" fill="#000" text-anchor="end" >15.0</text>
<text x="344.5" y="461.3" font-size="10.7" fill="#000" text-anchor="end" >7.0</text>
<text x="344.5" y="481.3" font-size="10.7" fill="#000" text-anchor="end" >2.0</text>
<text x="344.5" y="500.3" font-size="10.7" fill="#000" text-anchor="end" >0.5</text>
<text x="344.5" y="519.8" font-size="10.7" fill="#000" text-anchor="end" >0.0</text>
<text x="845.0" y="443.3" font-size="10.7" fill="#ff8408" text-anchor="start" >100</text>
<text x="845.0" y="462.3" font-size="10.7" fill="#ff8408" text-anchor="start" >20</text>
<text x="845.0" y="481.8" font-size="10.7" fill="#ff8408" text-anchor="start" >5</text>
<text x="845.0" y="501.3" font-size="10.7" fill="#ff8408" text-anchor="start" >1</text>
<text x="845.0" y="520.1" font-size="10.7" fill="#ff8408" text-anchor="start" >0</text>
<text transform="translate(293.0,474.2) rotate(-90)" font-size="12" fill="#0000a0" text-anchor="middle">pion. rozciągł. chm.</text>
<text transform="translate(306.0,474.2) rotate(-90)" font-size="12" fill="#0000a0" text-anchor="middle">(km)</text>
<text transform="translate(892.5,477.0) rotate(-90)" font-size="12" fill="#0000a0" text-anchor="middle">(km)</text>
<text transform="translate(906.0,477.0) rotate(-90)" font-size="12" fill="#0000a0" text-anchor="middle">widzialność</text>
<defs><clipPath id="c7"><rect x="348.5" y="525.5" width="493.0" height="79.0"/></clipPath></defs>
<rect x="348.5" y="525.5" width="493.0" height="79.0" fill="#89d5fc" shape-rendering="crispEdges"/>
<rect x="348.5" y="525.5" width="493.0" height="78.0" fill="#585858" shape-rendering="crispEdges"/>
<path d="M409,525 Q418,528 425.4,544.4 Q433,538 438,525 Z M600,525 L604.7,528.2 L609.3,525 Z M645,525 L650.2,529.2 L654,525 Z M661.4,525 L668.6,541.1 L675.2,533.2 L683.1,525 Z" fill="#89d5fc"/>
<polygon points="348.5,545.1 354.9,537.8 361.5,541.1 368.1,541.8 374.7,532.5 379.9,528.6 387.2,527.9 393.8,529.9 400.4,535.8 407.0,544.4 413.6,558.2 418.8,568.8 424.1,576.7 429.4,582.0 436.0,563.5 439.9,548.4 445.2,551.6 451.2,556.9 457.1,543.7 461.0,554.3 464.3,563.5 469.9,576.7 476.5,578.7 483.1,580.0 489.7,582.0 495.6,580.0 502.2,578.0 508.8,566.8 515.4,573.4 521.3,572.7 527.9,570.8 533.8,572.1 540.4,559.6 547.0,547.7 553.6,550.3 559.6,548.4 566.2,540.4 572.1,562.2 576.0,559.6 579.3,557.6 585.5,549.0 591.5,529.9 598.1,527.3 604.7,531.2 610.6,534.5 617.2,538.5 623.8,543.1 630.4,551.0 636.3,556.9 642.9,557.6 648.8,556.3 655.4,557.6 662.0,554.9 666.0,546.4 669.9,537.1 675.2,533.2 681.2,527.9 687.1,525.5 719.7,525.5 732.2,531.9 742.7,525.5 841.5,525.5 841.5,603.5 348.5,603.5" fill="#383838" clip-path="url(#c7)"/>
<g stroke="#ffb400" stroke-width="3.1" stroke-linecap="round" fill="none" clip-path="url(#c7)"><path d="M348.7,604.5 V599.1"/><path d="M355.1,604.5 V589.9"/><path d="M361.5,604.5 V580.0"/><path d="M367.9,604.5 V566.1"/><path d="M374.3,604.5 V559.5"/><path d="M380.7,604.5 V557.6"/><path d="M387.1,604.5 V562.8"/><path d="M393.5,604.5 V566.1"/><path d="M399.9,604.5 V576.0"/><path d="M406.3,604.5 V592.5"/><path d="M431.9,604.5 V599.8"/><path d="M438.3,604.5 V585.3"/><path d="M444.7,604.5 V585.9"/><path d="M451.1,604.5 V599.8"/><path d="M457.5,604.5 V595.8"/><path d="M463.9,604.5 V603.1"/><path d="M547.1,604.5 V603.3"/><path d="M553.5,604.5 V603.3"/><path d="M559.9,604.5 V603.3"/><path d="M566.3,604.5 V601.7"/><path d="M585.5,604.5 V596.5"/><path d="M591.9,604.5 V566.1"/><path d="M598.3,604.5 V554.0"/><path d="M604.7,604.5 V551.9"/><path d="M611.1,604.5 V554.0"/><path d="M617.5,604.5 V554.9"/><path d="M623.9,604.5 V562.8"/><path d="M630.3,604.5 V568.1"/><path d="M636.7,604.5 V576.0"/><path d="M643.1,604.5 V580.9"/><path d="M649.5,604.5 V581.3"/><path d="M655.9,604.5 V585.3"/><path d="M662.3,604.5 V585.9"/><path d="M668.7,604.5 V582.0"/><path d="M675.1,604.5 V571.0"/><path d="M681.5,604.5 V564.8"/><path d="M687.9,604.5 V542.7"/><path d="M694.3,604.5 V539.8"/><path d="M700.7,604.5 V541.7"/><path d="M707.1,604.5 V547.7"/><path d="M713.5,604.5 V552.9"/><path d="M719.9,604.5 V557.6"/><path d="M726.3,604.5 V565.5"/><path d="M732.7,604.5 V580.0"/><path d="M739.1,604.5 V566.1"/><path d="M745.5,604.5 V552.9"/><path d="M751.9,604.5 V551.0"/><path d="M758.3,604.5 V545.7"/><path d="M764.7,604.5 V541.7"/><path d="M771.1,604.5 V540.8"/><path d="M777.5,604.5 V537.8"/><path d="M783.9,604.5 V537.8"/><path d="M790.3,604.5 V537.8"/><path d="M796.7,604.5 V541.7"/><path d="M803.1,604.5 V546.4"/><path d="M809.5,604.5 V540.8"/><path d="M815.9,604.5 V536.9"/><path d="M822.3,604.5 V540.8"/><path d="M828.7,604.5 V545.7"/><path d="M835.1,604.5 V556.6"/><path d="M841.5,604.5 V560.9"/></g>
<path d="M361.5,525.5 V603.5 M380.5,525.5 V603.5 M399.5,525.5 V603.5 M419.5,525.5 V603.5 M438.5,525.5 V603.5 M457.5,525.5 V603.5 M476.5,525.5 V603.5 M495.5,525.5 V603.5 M515.5,525.5 V603.5 M534.5,525.5 V603.5 M553.5,525.5 V603.5 M572.5,525.5 V603.5 M591.5,525.5 V603.5 M611.5,525.5 V603.5 M630.5,525.5 V603.5 M649.5,525.5 V603.5 M668.5,525.5 V603.5 M687.5,525.5 V603.5 M707.5,525.5 V603.5 M726.5,525.5 V603.5 M745.5,525.5 V603.5 M764.5,525.5 V603.5 M783.5,525.5 V603.5 M803.5,525.5 V603.5 M822.5,525.5 V603.5 M348.5,526.5 H841.5 M348.5,545.5 H841.5 M348.5,564.5 H841.5 M348.5,584.5 H841.5" stroke="#000" stroke-width="1" stroke-dasharray="2,2" fill="none" shape-rendering="crispEdges"/>
<polyline points="383.2,603.3 389.8,599.1 395.8,583.3 399.7,565.5 404.3,566.2 408.3,570.1 413.6,575.4 418.8,580.0 424.1,579.3 429.4,584.6 436.0,591.9 442.6,593.2 450.5,588.6 457.1,592.5 464.3,587.5 469.9,599.1 473.2,602.4 476.5,603.5" fill="none" stroke="#a8a8a8" stroke-width="1"/>
<polyline points="655.4,603.5 662.0,587.3 668.6,575.4 674.6,562.2 681.2,558.9 687.1,578.0 691.0,593.8 695.0,599.1 701.6,603.5" fill="none" stroke="#a8a8a8" stroke-width="1"/>
<polyline points="797.9,602.8 803.2,602.8 807.1,600.4 812.4,588.6 817.7,563.5 821.6,543.7 825.6,535.8 830.9,531.9 836.2,530.3 841.4,528.6" fill="none" stroke="#b4b4b4" stroke-width="1.1" stroke-linejoin="round" clip-path="url(#c7)"/>
<polyline points="348.5,538.5 354.9,529.9 361.5,527.3 368.1,526.6 374.7,529.0 379.9,528.6 387.2,537.1 393.8,550.3 400.4,546.4 406.3,541.1 413.6,556.9 418.8,568.8 424.1,576.7 430.7,589.9 437.3,590.5 444.6,589.2 451.2,595.2 457.1,601.1 461.0,599.8 464.0,599.1 467.9,602.4 473.2,603.3 479.8,603.1 486.4,601.5 495.6,599.8 502.2,597.1 508.8,594.9 515.4,592.5 521.3,592.1 527.9,592.9 533.8,593.6 540.4,593.8 547.0,593.8 553.6,594.9 559.6,595.6 566.2,595.6 572.1,595.2 576.0,593.8 579.0,593.2 585.5,589.2 588.8,585.3 591.5,582.0 598.1,560.9 604.7,541.8 610.6,542.4 617.2,558.2 623.8,575.4 630.4,584.6 636.3,591.9 642.9,592.5 648.8,591.2 655.4,585.9 662.0,588.6 668.6,591.9 672.6,593.8 681.2,592.3 687.1,591.9 690.0,591.2 696.6,591.9 703.2,592.5 709.8,595.8 716.4,598.9 725.6,599.8 738.8,599.8 751.3,599.8 763.8,600.4 770.4,602.0 783.6,602.8 802.1,602.8" fill="none" stroke="#ececec" stroke-width="1.55" stroke-linejoin="round" clip-path="url(#c7)"/>
<rect x="348.5" y="525.5" width="493.0" height="78.0" fill="none" stroke="#222" stroke-width="1" shape-rendering="crispEdges"/>
<text x="344.5" y="529.8" font-size="10.7" fill="#000" text-anchor="end" >8</text>
<text x="344.5" y="549.3" font-size="10.7" fill="#000" text-anchor="end" >6</text>
<text x="344.5" y="568.3" font-size="10.7" fill="#000" text-anchor="end" >4</text>
<text x="344.5" y="588.3" font-size="10.7" fill="#000" text-anchor="end" >2</text>
<text x="344.5" y="607.3" font-size="10.7" fill="#000" text-anchor="end" >0</text>
<text x="845.0" y="530.3" font-size="10.7" fill="#ff8408" text-anchor="start" >1</text>
<text x="845.0" y="549.3" font-size="10.7" fill="#ff8408" text-anchor="start" >0.75</text>
<text x="845.0" y="568.3" font-size="10.7" fill="#ff8408" text-anchor="start" >0.5</text>
<text x="845.0" y="588.3" font-size="10.7" fill="#ff8408" text-anchor="start" >0.25</text>
<text x="845.0" y="607.8" font-size="10.7" fill="#ff8408" text-anchor="start" >0</text>
<text transform="translate(293.0,572.0) rotate(-90)" font-size="12" fill="#0000a0" text-anchor="middle">zachmurzenie</text>
<text transform="translate(306.0,572.0) rotate(-90)" font-size="12" fill="#0000a0" text-anchor="middle">(oktanty)</text>
<text transform="translate(892.5,564.0) rotate(-90)" font-size="12" fill="#0000a0" text-anchor="middle">(frakcja)</text>
<text transform="translate(906.0,564.0) rotate(-90)" font-size="12" fill="#0000a0" text-anchor="middle">mgła</text>
<text x="309.0" y="653.0" font-size="12" fill="#0000a0" text-anchor="start" >meteo@icm.edu.pl</text>
<text x="623.5" y="653.0" font-size="12" fill="#0000a0" text-anchor="start" >© 2007-2025 ICM, Uniwersytet Warszawski</text>
<rect x="170" y="30" width="62" height="599" fill="#eaf0fb" shape-rendering="crispEdges"/>
<text x="6.0" y="17.9" font-size="10.7" fill="#000" text-anchor="start"  textLength="59.4" lengthAdjust="spacingAndGlyphs">Czas lokalny</text>
<text x="6.0" y="30.0" font-size="10.7" fill="#000" text-anchor="start"  textLength="55.1" lengthAdjust="spacingAndGlyphs">(CET/CEST)</text>
<text x="6.2" y="46.2" font-size="10.7" fill="#a51e1e" text-anchor="start"  textLength="93.2" lengthAdjust="spacingAndGlyphs">Temperatura gruntu</text>
<text x="27.8" y="55.9" font-size="10.7" fill="#a51e1e" text-anchor="start"  textLength="38.9" lengthAdjust="spacingAndGlyphs">max/min</text>
<text x="5.4" y="68.3" font-size="10.7" fill="#000" text-anchor="start"  textLength="62.3" lengthAdjust="spacingAndGlyphs">Temperatura:</text>
<text x="12.7" y="80.2" font-size="10.7" fill="#ff0000" text-anchor="start"  textLength="77.4" lengthAdjust="spacingAndGlyphs">punkt środkowy</text>
<text x="27.8" y="90.2" font-size="10.7" fill="#ffd7c8" text-anchor="start"  textLength="38.9" lengthAdjust="spacingAndGlyphs">max/min</text>
<text x="9.6" y="101.8" font-size="10.7" fill="#0000ff" text-anchor="start"  textLength="58.1" lengthAdjust="spacingAndGlyphs">odczuwana</text>
<text x="27.8" y="111.8" font-size="10.7" fill="#afdcfa" text-anchor="start"  textLength="38.9" lengthAdjust="spacingAndGlyphs">max/min</text>
<text x="6.2" y="124.2" font-size="10.7" fill="#5a5adc" text-anchor="start"  textLength="87.0" lengthAdjust="spacingAndGlyphs">Temp. punktu rosy</text>
<text x="6.2" y="141.2" font-size="10.7" fill="#ff0000" text-anchor="start"  textLength="94.8" lengthAdjust="spacingAndGlyphs">Opad powyżej skali</text>
<text x="6.2" y="155.1" font-size="10.7" fill="#e8501c" text-anchor="start"  textLength="97.1" lengthAdjust="spacingAndGlyphs">Wilgotność względna</text>
<text x="6.2" y="169.0" font-size="10.7" fill="#000" text-anchor="start"  textLength="84.7" lengthAdjust="spacingAndGlyphs">Wystąpienie burzy</text>
<text x="6.2" y="182.9" font-size="10.7" fill="#00a000" text-anchor="start"  textLength="63.1" lengthAdjust="spacingAndGlyphs">Deszcz: max</text>
<text x="49.1" y="193.7" font-size="10.7" fill="#00a000" text-anchor="start"  textLength="29.4" lengthAdjust="spacingAndGlyphs">średni</text>
<text x="5.9" y="205.3" font-size="10.7" fill="#1030c8" text-anchor="start"  textLength="30.1" lengthAdjust="spacingAndGlyphs">Śnieg:</text>
<text x="49.1" y="205.3" font-size="10.7" fill="#1030c8" text-anchor="start"  textLength="19.4" lengthAdjust="spacingAndGlyphs">max</text>
<text x="49.1" y="216.1" font-size="10.7" fill="#1030c8" text-anchor="start"  textLength="29.4" lengthAdjust="spacingAndGlyphs">średni</text>
<text x="5.9" y="228.5" font-size="10.7" fill="#ff0000" text-anchor="start"  textLength="88.6" lengthAdjust="spacingAndGlyphs">Wystąpienie opadu</text>
<text x="5.9" y="240.8" font-size="10.7" fill="#ff0000" text-anchor="start"  textLength="71.6" lengthAdjust="spacingAndGlyphs">konwekcyjnego</text>
<text x="4.9" y="267.1" font-size="10.7" fill="#000" text-anchor="start"  textLength="42.7" lengthAdjust="spacingAndGlyphs">Ciśnienie</text>
<text x="4.9" y="280.2" font-size="10.7" fill="#000" text-anchor="start"  textLength="66.7" lengthAdjust="spacingAndGlyphs">zredukowane</text>
<text x="4.9" y="293.0" font-size="10.7" fill="#000" text-anchor="start"  textLength="88.0" lengthAdjust="spacingAndGlyphs">do poziomu morza</text>
<text x="5.4" y="322.2" font-size="10.7" fill="#000" text-anchor="start"  textLength="66.5" lengthAdjust="spacingAndGlyphs">Wiatr na 10m:</text>
<text x="9.6" y="338.1" font-size="10.7" fill="#ff0000" text-anchor="start"  textLength="100.9" lengthAdjust="spacingAndGlyphs">poryw powyżej skali</text>
<text x="9.6" y="352.1" font-size="10.7" fill="#ff0000" text-anchor="start"  textLength="95.2" lengthAdjust="spacingAndGlyphs">max porywy wiatru</text>
<text x="9.6" y="372.2" font-size="10.7" fill="#0000a0" text-anchor="start"  textLength="79.0" lengthAdjust="spacingAndGlyphs">prędkość wiatru</text>
<text x="9.6" y="384.5" font-size="10.7" fill="#0000a0" text-anchor="start"  textLength="89.0" lengthAdjust="spacingAndGlyphs">w środku obszaru</text>
<text x="9.6" y="413.4" font-size="10.7" fill="#0000a0" text-anchor="start"  textLength="74.4" lengthAdjust="spacingAndGlyphs">kierunek wiatru</text>
<text x="5.9" y="433.2" font-size="10.7" fill="#a51e1e" text-anchor="start"  textLength="91.2" lengthAdjust="spacingAndGlyphs">Wierzchołek chmur</text>
<text x="5.9" y="447.8" font-size="10.7" fill="#000" text-anchor="start"  textLength="85.8" lengthAdjust="spacingAndGlyphs">Podstawa chmur*</text>
<text x="5.9" y="459.4" font-size="10.7" fill="#000" text-anchor="start"  textLength="47.9" lengthAdjust="spacingAndGlyphs">o pokryciu</text>
<text x="10.8" y="472.3" font-size="10.7" fill="#000" text-anchor="start"  textLength="43.8" lengthAdjust="spacingAndGlyphs">&gt; 7.9 okt.</text>
<text x="10.8" y="483.0" font-size="10.7" fill="#464646" text-anchor="start"  textLength="43.8" lengthAdjust="spacingAndGlyphs">&gt; 6.5 okt.</text>
<text x="10.8" y="493.8" font-size="10.7" fill="#969696" text-anchor="start"  textLength="43.8" lengthAdjust="spacingAndGlyphs">&gt; 4.5 okt.</text>
<text x="10.8" y="503.8" font-size="10.7" fill="#d2cdc8" text-anchor="start"  textLength="43.8" lengthAdjust="spacingAndGlyphs">&gt; 2.5 okt.</text>
<rect x="10.8" y="505.5" width="44.1" height="11" fill="#78c8fa"/>
<text x="10.8" y="515.4" font-size="10.7" fill="#fff" text-anchor="start"  textLength="43.8" lengthAdjust="spacingAndGlyphs">&gt; 0.1 okt.</text>
<text x="5.9" y="530.1" font-size="10.7" fill="#ff8000" text-anchor="start"  textLength="57.7" lengthAdjust="spacingAndGlyphs">Widzialność</text>
<text x="5.9" y="547.1" font-size="10.7" fill="#000" text-anchor="start"  textLength="39.1" lengthAdjust="spacingAndGlyphs">Chmury:</text>
<rect x="10.5" y="551" width="40.5" height="11.4" fill="#78c8fa"/>
<text x="11.5" y="560.4" font-size="10.7" fill="#fff" text-anchor="start"  textLength="39.0" lengthAdjust="spacingAndGlyphs">wysokie</text>
<text x="9.6" y="572.8" font-size="10.7" fill="#969696" text-anchor="start"  textLength="36.0" lengthAdjust="spacingAndGlyphs">średnie</text>
<text x="9.6" y="584.9" font-size="10.7" fill="#464646" text-anchor="start"  textLength="26.8" lengthAdjust="spacingAndGlyphs">niskie</text>
<text x="9.6" y="596.9" font-size="10.7" fill="#282828" text-anchor="start"  textLength="62.0" lengthAdjust="spacingAndGlyphs">bardzo niskie</text>
<text x="5.9" y="608.8" font-size="10.7" fill="#ffaf00" text-anchor="start"  textLength="20.6" lengthAdjust="spacingAndGlyphs">Mgła</text>
<text x="5.9" y="626.1" font-size="10.7" fill="#000" text-anchor="start" letter-spacing="0.72" textLength="131.8" lengthAdjust="spacingAndGlyphs">Czas uniwersalny (UTC)</text>
<text x="5.4" y="651.3" font-size="9" fill="#000" text-anchor="start" stroke="#000" stroke-width="0.35" textLength="103.3" lengthAdjust="spacingAndGlyphs">* powyżej poziomu morza</text>
<text x="163.8" y="51.5" font-size="12" fill="#000" text-anchor="middle" >20</text>
<text x="204.0" y="51.5" font-size="12" fill="#000" text-anchor="middle" >02</text>
<text x="244.5" y="51.5" font-size="12" fill="#000" text-anchor="middle" >08</text>
<text x="163.8" y="614.0" font-size="12" fill="#000" text-anchor="middle" >18</text>
<text x="204.0" y="614.0" font-size="12" fill="#000" text-anchor="middle" >00</text>
<text x="244.5" y="614.0" font-size="12" fill="#000" text-anchor="middle" >06</text>
<defs><clipPath id="m1"><rect x="135.5" y="57.5" width="111.0" height="77.0"/></clipPath></defs>
<g clip-path="url(#m1)"><rect x="135.5" y="112" width="111.0" height="23" fill="#89d5fc"/><rect x="170" y="112" width="62" height="23" fill="#000" fill-opacity="0.08"/><polygon points="135.3,103.5 143.2,104.8 156.4,108.1 169.6,111.4 182.7,113.4 195.9,118.0 209.1,123.2 222.3,126.5 230.2,128.5 239.5,123.2 246.0,119.3 246.0,123.2 239.5,127.2 232.9,132.7 222.3,131.2 209.1,128.5 195.9,123.9 182.7,117.3 169.6,114.7 156.4,113.4 143.2,112.0 135.3,112.0" fill="#c3e6fb"/><polygon points="135.3,87.6 143.2,90.3 156.4,94.2 169.6,99.5 182.7,104.8 195.9,107.4 209.1,108.1 222.3,109.4 232.9,110.1 239.5,106.1 246.0,104.8 246.0,119.3 239.5,123.2 230.2,128.5 222.3,126.5 209.1,123.2 195.9,118.0 182.7,113.4 169.6,111.4 156.4,108.1 143.2,103.5 135.3,102.1" fill="#ffe6dc"/></g>
<path d="M142.5,70.5 V90.3 M149.5,78.0 V92.3 M156.5,87.3 V99.2 M163.5,96.2 V108.1 M170.5,101.2 V113.0 M177.5,103.1 V117.0 M184.5,109.1 V121.9 M191.5,106.1 V123.9 M198.5,107.1 V125.9 M205.5,108.1 V123.9 M212.5,109.1 V129.8 M219.5,110.1 V129.8 M226.5,110.1 V132.8 M233.5,111.0 V131.8 M240.5,106.1 V119.9" stroke="#a81414" stroke-width="1" fill="none"/>
<path d="M142.5,57.5 V134.5 M163.5,57.5 V134.5 M184.5,57.5 V134.5 M205.5,57.5 V134.5 M226.5,57.5 V134.5 M135.5,59.5 H246.5 M135.5,77.5 H246.5 M135.5,94.5 H246.5 M135.5,111.5 H246.5 M135.5,128.5 H246.5" stroke="#000" stroke-width="1" stroke-dasharray="2,2" fill="none" shape-rendering="crispEdges"/>
<polyline points="135.3,102.7 141.6,103.7 149.6,105.7 156.5,108.7 163.4,110.1 170.3,111.4 177.3,113.6 184.8,113.6 191.1,116.0 198.0,117.0 205.5,118.0 212.9,118.0 219.8,119.0 226.7,119.5 233.6,122.3 240.5,116.4 246.1,115.6" fill="none" stroke="#0a0af0" stroke-width="2.6" clip-path="url(#m1)"/>
<polyline points="135.3,99.2 141.6,99.8 149.6,102.1 156.5,105.7 163.4,109.1 170.3,111.0 177.3,112.6 184.8,112.0 191.1,113.6 198.0,114.0 205.5,115.0 212.9,115.0 219.8,116.0 226.7,116.0 233.6,119.0 240.5,114.0 246.1,111.6" fill="none" stroke="#ff0000" stroke-width="2.6" clip-path="url(#m1)"/>
<g fill="#6a5acd"><rect x="141.4" y="112.3" width="2.3" height="2.3"/><rect x="148.4" y="112.3" width="2.3" height="2.3"/><rect x="155.3" y="114.2" width="2.3" height="2.3"/><rect x="162.5" y="114.2" width="2.3" height="2.3"/><rect x="169.5" y="112.3" width="2.3" height="2.3"/><rect x="190.6" y="116.9" width="2.3" height="2.3"/><rect x="197.5" y="116.9" width="2.3" height="2.3"/><rect x="218.6" y="119.2" width="2.3" height="2.3"/><rect x="225.8" y="120.2" width="2.3" height="2.3"/><rect x="239.0" y="118.2" width="2.3" height="2.3"/></g>
<rect x="135.5" y="57.5" width="111.0" height="77.0" fill="none" stroke="#000" stroke-width="1" shape-rendering="crispEdges"/>
<text x="128.5" y="63.3" font-size="10.7" fill="#000" text-anchor="end" >30</text>
<text x="128.5" y="81.3" font-size="10.7" fill="#000" text-anchor="end" >20</text>
<text x="128.5" y="98.3" font-size="10.7" fill="#000" text-anchor="end" >10</text>
<text x="128.5" y="115.3" font-size="10.7" fill="#000" text-anchor="end" >0</text>
<text x="128.5" y="132.3" font-size="10.7" fill="#000" text-anchor="end" >-10</text>
<text x="255.0" y="63.3" font-size="10.7" fill="#000" text-anchor="start" >30</text>
<text x="255.0" y="81.3" font-size="10.7" fill="#000" text-anchor="start" >20</text>
<text x="255.0" y="98.3" font-size="10.7" fill="#000" text-anchor="start" >10</text>
<text x="257.9" y="115.3" font-size="10.7" fill="#000" text-anchor="start" >0</text>
<text x="252.0" y="132.3" font-size="10.7" fill="#000" text-anchor="start" >-10</text>
<polyline points="68.0,15.9 133.7,15.9 156.0,46.0" fill="none" stroke="#000" stroke-width="1"/>
<polyline points="102.0,44.4 119.5,44.4 149.5,83.5" fill="none" stroke="#a51e1e" stroke-width="1"/>
<polyline points="92.0,76.5 115.0,76.5" fill="none" stroke="#ff0000" stroke-width="1"/>
<polyline points="130.5,76.5 134.0,78.0 163.0,108.0" fill="none" stroke="#ff0000" stroke-width="1"/>
<polyline points="70.3,99.5 131.5,99.5 136.0,102.5" fill="none" stroke="#0000ff" stroke-width="1"/>
<polyline points="95.0,120.0 131.0,120.0 142.5,113.0" fill="none" stroke="#5a5adc" stroke-width="1"/>
<rect x="135.7" y="187.4" width="7.5" height="33.2" fill="#00a010" shape-rendering="crispEdges"/>
<rect x="143.2" y="179.8" width="13.8" height="40.7" fill="#00a010" shape-rendering="crispEdges"/>
<rect x="157.1" y="202.2" width="7.3" height="18.4" fill="#00a010" shape-rendering="crispEdges"/>
<rect x="164.4" y="208.1" width="5.5" height="12.5" fill="#00a010" shape-rendering="crispEdges"/>
<rect x="169.9" y="218.0" width="7.3" height="2.6" fill="#00a010" shape-rendering="crispEdges"/>
<rect x="157.1" y="182.4" width="7.3" height="19.8" fill="#0a28c8" shape-rendering="crispEdges"/>
<rect x="164.4" y="205.2" width="5.5" height="3.0" fill="#0a28c8" shape-rendering="crispEdges"/>
<path d="M139.5,164.6 V187.4 M146.5,147.8 V179.5 M153.5,147.8 V179.5" stroke="#00a010" stroke-width="1" fill="none"/>
<path d="M160.5,170.5 V182.4" stroke="#0a28c8" stroke-width="1" fill="none"/>
<path d="M142.5,143.5 V220.5 M163.5,143.5 V220.5 M184.5,143.5 V220.5 M205.5,143.5 V220.5 M226.5,143.5 V220.5 M135.5,150.5 H246.5 M135.5,168.5 H246.5 M135.5,185.5 H246.5 M135.5,203.5 H246.5" stroke="#000" stroke-width="1" stroke-dasharray="2,2" fill="none" shape-rendering="crispEdges"/>
<rect x="145.4" y="146.2" width="2.4" height="2.4" fill="#ff0000"/>
<rect x="152.3" y="146.2" width="2.4" height="2.4" fill="#ff0000"/>
<circle cx="139.3" cy="173.1" r="2.2" fill="#ffdc00" stroke="#000" stroke-width="0.8"/>
<circle cx="146.6" cy="173.1" r="2.2" fill="#ff9600" stroke="#000" stroke-width="0.8"/>
<circle cx="153.5" cy="173.1" r="2.2" fill="#e60000" stroke="#000" stroke-width="0.8"/>
<path d="M137.7,220 H140.7 M145.6,220 H148.6 M152.5,220 H155.5 M160.4,220 H162.4" stroke="#ff0000" stroke-width="1" fill="none"/>
<polyline points="135.3,172.5 141.6,169.6 146.6,162.6 152.5,156.7 159.5,154.1 165.4,152.7 177.3,152.4 184.8,152.4 191.1,149.2 197.0,148.8 205.5,154.7 212.9,155.7 219.8,151.4 226.7,149.4 233.6,151.8 240.5,157.7 246.1,164.6" fill="none" stroke="#e8501c" stroke-width="2.1" stroke-linejoin="round"/>
<rect x="135.5" y="143.5" width="111.0" height="77.0" fill="none" stroke="#000" stroke-width="1" shape-rendering="crispEdges"/>
<text x="128.5" y="154.3" font-size="10.7" fill="#000" text-anchor="end" >2.0</text>
<text x="128.5" y="172.3" font-size="10.7" fill="#000" text-anchor="end" >1.5</text>
<text x="128.5" y="189.3" font-size="10.7" fill="#000" text-anchor="end" >1.0</text>
<text x="128.5" y="207.3" font-size="10.7" fill="#000" text-anchor="end" >0.5</text>
<text x="128.5" y="224.3" font-size="10.7" fill="#000" text-anchor="end" >0.0</text>
<text x="252.0" y="154.3" font-size="10.7" fill="#e8501c" text-anchor="start" >96</text>
<text x="252.0" y="172.3" font-size="10.7" fill="#e8501c" text-anchor="start" >84</text>
<text x="252.0" y="189.3" font-size="10.7" fill="#e8501c" text-anchor="start" >73</text>
<text x="252.0" y="207.3" font-size="10.7" fill="#e8501c" text-anchor="start" >61</text>
<text x="252.0" y="224.3" font-size="10.7" fill="#e8501c" text-anchor="start" >50</text>
<polyline points="103.2,137.2 141.5,137.2 146.5,146.5" fill="none" stroke="#ff0000" stroke-width="1"/>
<polyline points="106.3,151.0 111.3,151.0" fill="none" stroke="#e8501c" stroke-width="1"/>
<polyline points="130.3,151.0 146.5,159.5" fill="none" stroke="#e8501c" stroke-width="1"/>
<polyline points="94.0,166.4 113.6,166.4" fill="none" stroke="#000" stroke-width="1"/>
<polyline points="129.8,166.4 134.5,167.6 138.0,172.0" fill="none" stroke="#000" stroke-width="1"/>
<polyline points="71.1,179.4 139.5,179.4" fill="none" stroke="#00a000" stroke-width="1"/>
<polyline points="80.4,190.4 136.0,190.4" fill="none" stroke="#00a000" stroke-width="1"/>
<polyline points="70.3,202.0 112.0,202.0" fill="none" stroke="#1030c8" stroke-width="1"/>
<polyline points="129.5,202.0 132.0,201.5 160.5,172.5" fill="none" stroke="#1030c8" stroke-width="1"/>
<polyline points="81.1,213.5 133.5,213.5 158.5,187.5" fill="none" stroke="#1030c8" stroke-width="1"/>
<polyline points="97.0,225.3 143.5,225.3 147.5,220.0" fill="none" stroke="#ff0000" stroke-width="1"/>
<defs><clipPath id="m3"><polygon points="135.3,261.5 142.6,260.1 149.6,253.6 156.5,249.2 163.4,248.6 170.3,244.7 177.3,248.6 184.8,250.6 191.1,253.6 198.0,253.6 205.5,253.6 212.9,253.6 219.8,253.6 226.7,254.6 233.6,258.1 240.5,262.5 246.1,266.0 246.5,306.5 135.5,306.5"/></clipPath></defs>
<rect x="135.5" y="229.5" width="111.0" height="77.0" fill="#ffff00" clip-path="url(#m3)"/>
<rect x="164.4" y="229.5" width="5.6" height="77.0" fill="#ffd700" clip-path="url(#m3)"/>
<path d="M142.5,229.5 V306.5 M163.5,229.5 V306.5 M184.5,229.5 V306.5 M205.5,229.5 V306.5 M226.5,229.5 V306.5 M135.5,231.5 H246.5 M135.5,254.5 H246.5 M135.5,278.5 H246.5 M135.5,301.5 H246.5" stroke="#000" stroke-width="1" stroke-dasharray="2,2" fill="none" shape-rendering="crispEdges"/>
<polyline points="135.3,261.5 142.6,260.1 149.6,253.6 156.5,249.2 163.4,248.6 170.3,244.7 177.3,248.6 184.8,250.6 191.1,253.6 198.0,253.6 205.5,253.6 212.9,253.6 219.8,253.6 226.7,254.6 233.6,258.1 240.5,262.5 246.1,266.0" fill="none" stroke="#000" stroke-width="2.5" stroke-linejoin="round"/>
<rect x="135.5" y="229.5" width="111.0" height="77.0" fill="none" stroke="#000" stroke-width="1" shape-rendering="crispEdges"/>
<text x="128.5" y="234.8" font-size="10.7" fill="#000" text-anchor="end" >1018</text>
<text x="128.5" y="257.8" font-size="10.7" fill="#000" text-anchor="end" >1016</text>
<text x="128.5" y="281.8" font-size="10.7" fill="#000" text-anchor="end" >1014</text>
<text x="128.5" y="305.3" font-size="10.7" fill="#000" text-anchor="end" >1012</text>
<text x="252.0" y="234.8" font-size="10.7" fill="#000" text-anchor="start" >1018</text>
<text x="252.0" y="257.8" font-size="10.7" fill="#000" text-anchor="start" >1016</text>
<text x="252.0" y="281.8" font-size="10.7" fill="#000" text-anchor="start" >1014</text>
<text x="252.0" y="305.3" font-size="10.7" fill="#000" text-anchor="start" >1012</text>
<polyline points="51.0,264.6 131.0,264.6 136.0,262.3" fill="none" stroke="#000" stroke-width="1"/>
<defs><clipPath id="m4"><polygon points="135.3,364.9 141.6,369.2 149.6,371.8 156.5,372.2 163.4,373.2 170.3,374.8 177.3,375.6 184.8,375.2 191.1,374.2 198.0,372.8 205.5,373.2 212.9,373.2 219.8,373.2 226.7,372.8 233.6,370.8 240.5,370.2 246.1,369.6 246.5,392.5 135.5,392.5"/></clipPath></defs>
<g clip-path="url(#m4)" shape-rendering="crispEdges"><rect x="135.3" y="314.5" width="13.2" height="78.0" fill="#18d218"/><rect x="148.2" y="314.5" width="20.9" height="78.0" fill="#008c14"/><rect x="168.7" y="314.5" width="28.6" height="78.0" fill="#004a8c"/><rect x="197.0" y="314.5" width="14.1" height="78.0" fill="#008c14"/><rect x="210.9" y="314.5" width="14.7" height="78.0" fill="#004a8c"/><rect x="225.3" y="314.5" width="13.9" height="78.0" fill="#008c14"/><rect x="239.0" y="314.5" width="7.8" height="78.0" fill="#18d218"/></g>
<path d="M142.5,314.5 V392.5 M163.5,314.5 V392.5 M184.5,314.5 V392.5 M205.5,314.5 V392.5 M226.5,314.5 V392.5 M135.5,315.5 H246.5 M135.5,334.5 H246.5 M135.5,353.5 H246.5 M135.5,372.5 H246.5" stroke="#000" stroke-width="1" stroke-dasharray="2,2" fill="none" shape-rendering="crispEdges"/>
<path d="M142.6,340.5 H149.0 M148.6,347.5 H155.9 M155.9,348.5 H162.4 M162.4,351.5 H169.3 M169.3,355.5 H176.9 M176.9,358.5 H184.8 M184.8,354.5 H190.1 M190.1,351.5 H198.0 M198.0,350.5 H205.5 M205.5,350.5 H211.5 M211.5,351.5 H225.3 M225.3,347.5 H232.6 M232.6,343.5 H239.6 M239.6,342.5 H246.1" stroke="#ff0000" stroke-width="1" fill="none"/>
<rect x="137.6" y="315.7" width="2.4" height="2.4" fill="#ff0000"/>
<polyline points="135.3,364.9 141.6,369.2 149.6,371.8 156.5,372.2 163.4,373.2 170.3,374.8 177.3,375.6 184.8,375.2 191.1,374.2 198.0,372.8 205.5,373.2 212.9,373.2 219.8,373.2 226.7,372.8 233.6,370.8 240.5,370.2 246.1,369.6" fill="none" stroke="#00008c" stroke-width="2.6" stroke-linejoin="round"/>
<rect x="135.5" y="314.5" width="111.0" height="78.0" fill="none" stroke="#000" stroke-width="1" shape-rendering="crispEdges"/>
<text x="128.5" y="319.3" font-size="10.7" fill="#000" text-anchor="end" >20</text>
<text x="128.5" y="338.3" font-size="10.7" fill="#000" text-anchor="end" >15</text>
<text x="128.5" y="357.3" font-size="10.7" fill="#000" text-anchor="end" >10</text>
<text x="128.5" y="376.3" font-size="10.7" fill="#000" text-anchor="end" >5</text>
<text x="128.5" y="395.8" font-size="10.7" fill="#000" text-anchor="end" >0</text>
<text x="252.0" y="319.3" font-size="10.7" fill="#000" text-anchor="start" >72</text>
<text x="252.0" y="338.3" font-size="10.7" fill="#000" text-anchor="start" >54</text>
<text x="252.0" y="357.3" font-size="10.7" fill="#000" text-anchor="start" >36</text>
<text x="252.0" y="376.3" font-size="10.7" fill="#000" text-anchor="start" >18</text>
<text x="255.0" y="395.8" font-size="10.7" fill="#000" text-anchor="start" >0</text>
<polyline points="112.0,334.6 117.5,334.6" fill="none" stroke="#ff0000" stroke-width="1"/>
<polyline points="130.3,334.6 133.0,331.0 138.6,318.5" fill="none" stroke="#ff0000" stroke-width="1"/>
<polyline points="107.0,348.2 131.4,348.2 142.5,340.5" fill="none" stroke="#ff0000" stroke-width="1"/>
<polyline points="92.0,367.5 137.6,367.5" fill="none" stroke="#0000a0" stroke-width="1"/>
<path d="M142.5,398.5 V430.5 M163.5,398.5 V430.5 M184.5,398.5 V430.5 M205.5,398.5 V430.5 M226.5,398.5 V430.5" stroke="#000" stroke-width="1" stroke-dasharray="2,2" fill="none" shape-rendering="crispEdges"/>
<g clip-path="url(#m5)"><use href="#arw" transform="translate(137.1,414.2) rotate(164) scale(1.3,1.22)"/><use href="#arw" transform="translate(144.2,414.2) rotate(164) scale(1.3,1.22)"/><use href="#arw" transform="translate(151.2,414.2) rotate(164) scale(1.3,1.22)"/><use href="#arw" transform="translate(158.3,414.2) rotate(164) scale(1.3,1.22)"/><use href="#arw" transform="translate(165.4,414.2) rotate(164) scale(1.3,1.22)"/><use href="#arw" transform="translate(172.5,414.2) rotate(164) scale(1.3,1.22)"/><use href="#arw" transform="translate(179.5,414.2) rotate(164) scale(1.3,1.22)"/><use href="#arw" transform="translate(186.6,414.2) rotate(164) scale(1.3,1.22)"/><use href="#arw" transform="translate(193.7,414.2) rotate(164) scale(1.3,1.22)"/><use href="#arw" transform="translate(200.7,414.2) rotate(164) scale(1.3,1.22)"/><use href="#arw" transform="translate(207.8,414.2) rotate(164) scale(1.3,1.22)"/><use href="#arw" transform="translate(214.9,414.2) rotate(164) scale(1.3,1.22)"/><use href="#arw" transform="translate(221.9,414.2) rotate(164) scale(1.3,1.22)"/><use href="#arw" transform="translate(229.0,414.2) rotate(164) scale(1.3,1.22)"/><use href="#arw" transform="translate(236.1,414.2) rotate(164) scale(1.3,1.22)"/><use href="#arw" transform="translate(243.2,414.2) rotate(164) scale(1.3,1.22)"/><use href="#arw" transform="translate(250.2,414.2) rotate(164) scale(1.3,1.22)"/></g>
<defs><clipPath id="m5"><rect x="133.5" y="398.5" width="119.0" height="32.0"/></clipPath></defs>
<rect x="135.5" y="398.5" width="111.0" height="32.0" fill="none" stroke="#000" stroke-width="1" shape-rendering="crispEdges"/>
<polyline points="86.2,410.2 140.5,410.2" fill="none" stroke="#0000a0" stroke-width="1"/>
<rect x="135.5" y="436.5" width="111.0" height="78.0" fill="#89d5fc" shape-rendering="crispEdges"/>
<rect x="170" y="436.5" width="62" height="78.0" fill="#000" fill-opacity="0.07"/>
<defs><clipPath id="m6"><rect x="135.5" y="436.5" width="111.0" height="78.0"/></clipPath></defs>
<path d="M142.5,436.5 V514.5 M163.5,436.5 V514.5 M184.5,436.5 V514.5 M205.5,436.5 V514.5 M226.5,436.5 V514.5 M135.5,437.5 H246.5 M135.5,456.5 H246.5 M135.5,475.5 H246.5 M135.5,495.5 H246.5" stroke="#000" stroke-width="1" stroke-dasharray="2,2" fill="none" shape-rendering="crispEdges"/>
<g clip-path="url(#m6)"><circle cx="150.5" cy="500.2" r="2.3" fill="#ffffff"/><circle cx="164.4" cy="499.2" r="2.3" fill="#ffffff"/><circle cx="191.5" cy="500.2" r="2.3" fill="#ffffff"/><circle cx="143.6" cy="505.1" r="2.3" fill="#ffffff"/><circle cx="184.8" cy="509.7" r="2.3" fill="#ffffff"/><circle cx="170.7" cy="492.3" r="2.3" fill="#ffffff"/><circle cx="177.6" cy="492.3" r="2.3" fill="#ffffff"/><circle cx="198.4" cy="492.3" r="2.3" fill="#ffffff"/><circle cx="205.5" cy="492.3" r="2.3" fill="#ffffff"/><circle cx="212.5" cy="492.3" r="2.3" fill="#ffffff"/><circle cx="219.4" cy="509.7" r="2.3" fill="#ffffff"/><circle cx="226.3" cy="509.7" r="2.3" fill="#ffffff"/><circle cx="233.2" cy="509.7" r="2.3" fill="#ffffff"/><circle cx="240.2" cy="509.7" r="2.3" fill="#ffffff"/><circle cx="245.5" cy="500.2" r="2.3" fill="#ffffff"/><circle cx="170.7" cy="489.3" r="2.3" fill="#cdcdcd"/><circle cx="198.4" cy="489.3" r="2.3" fill="#cdcdcd"/><circle cx="212.5" cy="489.3" r="2.3" fill="#cdcdcd"/><circle cx="219.4" cy="500.2" r="2.3" fill="#cdcdcd"/><circle cx="226.3" cy="500.2" r="2.3" fill="#cdcdcd"/><circle cx="240.2" cy="500.2" r="2.3" fill="#cdcdcd"/><circle cx="136.7" cy="505.1" r="2.3" fill="#cdcdcd"/><circle cx="177.6" cy="489.3" r="2.3" fill="#969696"/><circle cx="198.4" cy="485.3" r="2.3" fill="#969696"/><circle cx="212.5" cy="485.3" r="2.3" fill="#969696"/><circle cx="184.8" cy="504.1" r="2.3" fill="#969696"/><circle cx="240.2" cy="494.2" r="2.3" fill="#969696"/><circle cx="233.2" cy="500.2" r="2.3" fill="#969696"/><circle cx="245.5" cy="481.4" r="2.3" fill="#969696"/><circle cx="143.6" cy="481.4" r="2.3" fill="#505050"/><circle cx="150.5" cy="492.3" r="2.3" fill="#505050"/><circle cx="157.5" cy="492.3" r="2.3" fill="#505050"/><circle cx="164.4" cy="492.3" r="2.3" fill="#505050"/><circle cx="191.5" cy="489.3" r="2.3" fill="#505050"/><circle cx="212.5" cy="481.4" r="2.3" fill="#505050"/><circle cx="219.4" cy="489.3" r="2.3" fill="#505050"/><circle cx="226.3" cy="492.3" r="2.3" fill="#505050"/><circle cx="233.2" cy="494.2" r="2.3" fill="#505050"/><circle cx="143.6" cy="500.2" r="2.3" fill="#505050"/><circle cx="184.8" cy="500.2" r="2.3" fill="#505050"/><circle cx="191.5" cy="456.3" r="2.3" fill="#000000"/><circle cx="198.4" cy="464.6" r="2.3" fill="#000000"/><circle cx="205.5" cy="467.5" r="2.3" fill="#000000"/><circle cx="212.5" cy="470.5" r="2.3" fill="#000000"/><circle cx="219.4" cy="481.4" r="2.3" fill="#000000"/><circle cx="226.3" cy="484.9" r="2.3" fill="#000000"/><circle cx="233.2" cy="489.3" r="2.3" fill="#000000"/><circle cx="240.2" cy="481.4" r="2.3" fill="#000000"/><circle cx="245.5" cy="476.8" r="2.3" fill="#000000"/><circle cx="184.8" cy="489.3" r="2.3" fill="#000000"/><circle cx="136.7" cy="475.4" r="2.3" fill="#b42020"/><circle cx="143.6" cy="475.4" r="2.3" fill="#b42020"/><circle cx="150.5" cy="458.6" r="2.3" fill="#b42020"/><circle cx="157.5" cy="458.6" r="2.3" fill="#b42020"/><circle cx="164.4" cy="460.6" r="2.3" fill="#b42020"/><circle cx="170.7" cy="451.3" r="2.3" fill="#b42020"/><circle cx="177.6" cy="449.7" r="2.3" fill="#b42020"/><circle cx="184.8" cy="449.7" r="2.3" fill="#b42020"/><circle cx="191.5" cy="449.7" r="2.3" fill="#b42020"/><circle cx="198.4" cy="451.3" r="2.3" fill="#b42020"/><circle cx="205.5" cy="449.7" r="2.3" fill="#b42020"/><circle cx="212.5" cy="449.7" r="2.3" fill="#b42020"/><circle cx="219.4" cy="449.7" r="2.3" fill="#b42020"/><circle cx="226.3" cy="449.7" r="2.3" fill="#b42020"/><circle cx="233.2" cy="449.7" r="2.3" fill="#b42020"/><circle cx="240.2" cy="449.7" r="2.3" fill="#b42020"/><circle cx="246.1" cy="449.7" r="2.3" fill="#b42020"/></g>
<polyline points="135.3,471.5 142.6,471.5 149.6,466.5 156.5,464.6 163.4,464.0 170.3,464.0 178.2,464.6 184.8,467.5 191.5,470.1 198.4,471.1 205.5,471.5 212.5,472.5 219.4,474.5 226.3,474.5 233.2,474.1 240.2,471.5 246.1,470.5" fill="none" stroke="#ffa000" stroke-width="2.1" stroke-linejoin="round"/>
<rect x="135.5" y="436.5" width="111.0" height="78.0" fill="none" stroke="#000" stroke-width="1" shape-rendering="crispEdges"/>
<text x="128.5" y="441.3" font-size="10.7" fill="#000" text-anchor="end" >15.0</text>
<text x="128.5" y="460.3" font-size="10.7" fill="#000" text-anchor="end" >7.0</text>
<text x="128.5" y="479.3" font-size="10.7" fill="#000" text-anchor="end" >2.0</text>
<text x="128.5" y="499.3" font-size="10.7" fill="#000" text-anchor="end" >0.5</text>
<text x="128.5" y="518.3" font-size="10.7" fill="#000" text-anchor="end" >0.0</text>
<text x="252.0" y="441.3" font-size="10.7" fill="#ff8408" text-anchor="start" >100</text>
<text x="252.0" y="460.3" font-size="10.7" fill="#ff8408" text-anchor="start" >20</text>
<text x="252.0" y="479.3" font-size="10.7" fill="#ff8408" text-anchor="start" >5</text>
<text x="252.0" y="499.3" font-size="10.7" fill="#ff8408" text-anchor="start" >1</text>
<text x="252.0" y="518.3" font-size="10.7" fill="#ff8408" text-anchor="start" >0</text>
<polyline points="100.5,430.0 133.5,430.5 184.5,447.5" fill="none" stroke="#a51e1e" stroke-width="1"/>
<polyline points="57.2,468.4 135.5,468.0 191.0,456.5" fill="none" stroke="#000" stroke-width="1"/>
<polyline points="57.2,480.6 143.0,480.6" fill="none" stroke="#464646" stroke-width="1"/>
<polyline points="57.2,490.1 131.0,490.1 143.0,500.0" fill="none" stroke="#969696" stroke-width="1"/>
<polyline points="57.2,500.1 132.5,500.1 137.0,504.5" fill="none" stroke="#d2cdc8" stroke-width="1"/>
<path d="M57.2,509.5 H136 M57.2,512 H136" stroke="#78c8fa" stroke-width="1" fill="none"/>
<polyline points="67.2,527.2 129.5,527.2 174.5,464.5" fill="none" stroke="#ff8000" stroke-width="1"/>
<defs><clipPath id="m7"><rect x="135.5" y="523.5" width="111.0" height="78.0"/></clipPath></defs>
<rect x="135.5" y="523.5" width="111.0" height="78.0" fill="#89d5fc" shape-rendering="crispEdges"/>
<rect x="170" y="523.5" width="62" height="78.0" fill="#000" fill-opacity="0.07"/>
<g clip-path="url(#m7)"><polygon points="164.4,601.4 166.4,588.1 169.3,579.2 175.3,569.3 180.2,565.4 185.2,563.4 191.1,549.6 197.0,544.6 204.9,543.6 208.9,531.8 213.8,525.8 220.8,524.2 246.5,524.2 246.5,601.4" fill="#ffffff"/><polygon points="184.8,569.3 191.1,571.3 194.1,549.6 197.0,530.8 204.9,535.7 209.9,529.8 214.8,526.8 224.7,524.8 232.6,524.2 246.5,524.2 246.5,601.4 183.2,601.4" fill="#969696"/><polygon points="135.3,577.3 142.6,562.4 149.6,577.3 156.5,583.2 163.4,586.2 166.4,588.1 175.3,593.1 178.2,591.1 184.8,569.3 186.2,585.2 191.1,574.3 197.0,585.2 204.9,595.1 212.9,579.2 219.8,542.6 226.7,535.3 233.6,542.6 240.5,555.5 246.5,567.4 246.5,601.4 135.3,601.4" fill="#555555"/><polygon points="137.7,601.4 141.6,597.0 149.6,590.7 159.5,597.0 163.4,601.4" fill="#2d2d2d"/></g>
<path d="M218.4,601.5 V590.1 M225.3,601.5 V590.1 M232.6,601.5 V590.1 M239.6,601.5 V590.1" stroke="#ffb400" stroke-width="2.8" fill="none"/>
<path d="M142.5,523.5 V601.5 M163.5,523.5 V601.5 M184.5,523.5 V601.5 M205.5,523.5 V601.5 M226.5,523.5 V601.5 M135.5,523.5 H246.5 M135.5,543.5 H246.5 M135.5,562.5 H246.5 M135.5,582.5 H246.5" stroke="#000" stroke-width="1" stroke-dasharray="2,2" fill="none" shape-rendering="crispEdges"/>
<polyline points="186.2,595.1 191.1,579.2 197.0,543.6 204.9,542.6 208.9,531.8 214.8,525.8 224.7,524.2 232.6,524.8 238.6,535.7 246.1,544.6" fill="none" stroke="#f0f0f0" stroke-width="1" clip-path="url(#m7)"/>
<polyline points="135.3,588.1 141.6,594.1 149.6,599.0 159.5,601.4" fill="none" stroke="#c8c8c8" stroke-width="1" clip-path="url(#m7)"/>
<polyline points="164.4,601.4 166.4,589.1" fill="none" stroke="#f0f0f0" stroke-width="1" clip-path="url(#m7)"/>
<rect x="135.5" y="523.5" width="111.0" height="78.0" fill="none" stroke="#000" stroke-width="1" shape-rendering="crispEdges"/>
<text x="128.5" y="528.3" font-size="10.7" fill="#000" text-anchor="end" >8</text>
<text x="128.5" y="547.3" font-size="10.7" fill="#000" text-anchor="end" >6</text>
<text x="128.5" y="566.3" font-size="10.7" fill="#000" text-anchor="end" >4</text>
<text x="128.5" y="586.3" font-size="10.7" fill="#000" text-anchor="end" >2</text>
<text x="128.5" y="604.8" font-size="10.7" fill="#000" text-anchor="end" >0</text>
<text x="252.0" y="528.3" font-size="10.7" fill="#ff8408" text-anchor="start" >1</text>
<text x="252.0" y="547.3" font-size="10.7" fill="#ff8408" text-anchor="start" >0.75</text>
<text x="252.0" y="566.3" font-size="10.7" fill="#ff8408" text-anchor="start" >0.5</text>
<text x="252.0" y="586.3" font-size="10.7" fill="#ff8408" text-anchor="start" >0.25</text>
<text x="252.0" y="605.3" font-size="10.7" fill="#ff8408" text-anchor="start" >0</text>
<path d="M53.3,556 H175 M53.3,558.6 H175" stroke="#78c8fa" stroke-width="1" fill="none"/>
<polyline points="49.1,571.2 192.0,571.2" fill="none" stroke="#969696" stroke-width="1"/>
<polyline points="39.9,582.3 121.3,582.3" fill="none" stroke="#464646" stroke-width="1"/>
<polyline points="130.3,582.3 136.0,582.3" fill="none" stroke="#464646" stroke-width="1"/>
<polyline points="74.2,594.8 143.5,594.8" fill="none" stroke="#282828" stroke-width="1"/>
<polyline points="30.1,605.3 216.5,605.3 219.0,601.5" fill="none" stroke="#ffaf00" stroke-width="1"/>
<polyline points="139.5,623.8 148.0,623.8 157.5,611.0" fill="none" stroke="#000" stroke-width="1"/>
</svg>
</body></html>
